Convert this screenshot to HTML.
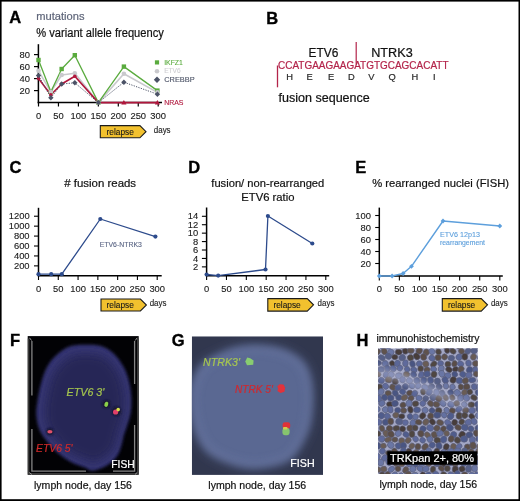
<!DOCTYPE html>
<html><head><meta charset="utf-8"><style>
html,body{margin:0;padding:0;background:#fff;width:520px;height:501px;overflow:hidden}
svg{display:block;font-family:"Liberation Sans", sans-serif;will-change:transform}
</style></head><body>
<svg width="520" height="501" viewBox="0 0 520 501">
<rect x="0" y="0" width="520" height="501" fill="#000"/>
<rect x="1.6" y="1.6" width="516.9" height="497.6" fill="#fff"/>
<text x="9.3" y="23.4" font-size="16.5" fill="#000" text-anchor="start" font-weight="bold" font-style="normal" stroke="#000" stroke-width="0.35">A</text>
<text x="36.3" y="19.8" font-size="11" fill="#5e6579" text-anchor="start" font-weight="normal" font-style="normal" textLength="48.2" lengthAdjust="spacingAndGlyphs" stroke="#5e6579" stroke-width="0.20">mutations</text>
<text x="36.3" y="37.0" font-size="12" fill="#111" text-anchor="start" font-weight="normal" font-style="normal" textLength="127.5" lengthAdjust="spacingAndGlyphs" stroke="#111" stroke-width="0.20">% variant allele frequency</text>
<line x1="38.4" y1="44.2" x2="38.4" y2="103.3" stroke="#000" stroke-width="1.5"/>
<line x1="37.7" y1="102.6" x2="162.0" y2="102.6" stroke="#000" stroke-width="1.5"/>
<line x1="34.0" y1="90.6" x2="38.4" y2="90.6" stroke="#000" stroke-width="1.2"/>
<text x="29.9" y="93.8" font-size="9.4" fill="#1a1a1a" text-anchor="end" font-weight="normal" font-style="normal" stroke="#1a1a1a" stroke-width="0.12">20</text>
<line x1="34.0" y1="78.6" x2="38.4" y2="78.6" stroke="#000" stroke-width="1.2"/>
<text x="29.9" y="81.8" font-size="9.4" fill="#1a1a1a" text-anchor="end" font-weight="normal" font-style="normal" stroke="#1a1a1a" stroke-width="0.12">40</text>
<line x1="34.0" y1="66.6" x2="38.4" y2="66.6" stroke="#000" stroke-width="1.2"/>
<text x="29.9" y="69.8" font-size="9.4" fill="#1a1a1a" text-anchor="end" font-weight="normal" font-style="normal" stroke="#1a1a1a" stroke-width="0.12">60</text>
<line x1="34.0" y1="54.599999999999994" x2="38.4" y2="54.599999999999994" stroke="#000" stroke-width="1.2"/>
<text x="29.9" y="57.8" font-size="9.4" fill="#1a1a1a" text-anchor="end" font-weight="normal" font-style="normal" stroke="#1a1a1a" stroke-width="0.12">80</text>
<line x1="38.5" y1="102.6" x2="38.5" y2="106.5" stroke="#000" stroke-width="1.2"/>
<text x="38.5" y="119" font-size="9.4" fill="#1a1a1a" text-anchor="middle" font-weight="normal" font-style="normal" stroke="#1a1a1a" stroke-width="0.12">0</text>
<line x1="58.45" y1="102.6" x2="58.45" y2="106.5" stroke="#000" stroke-width="1.2"/>
<text x="58.45" y="119" font-size="9.4" fill="#1a1a1a" text-anchor="middle" font-weight="normal" font-style="normal" stroke="#1a1a1a" stroke-width="0.12">50</text>
<line x1="78.4" y1="102.6" x2="78.4" y2="106.5" stroke="#000" stroke-width="1.2"/>
<text x="78.4" y="119" font-size="9.4" fill="#1a1a1a" text-anchor="middle" font-weight="normal" font-style="normal" stroke="#1a1a1a" stroke-width="0.12">100</text>
<line x1="98.35" y1="102.6" x2="98.35" y2="106.5" stroke="#000" stroke-width="1.2"/>
<text x="98.35" y="119" font-size="9.4" fill="#1a1a1a" text-anchor="middle" font-weight="normal" font-style="normal" stroke="#1a1a1a" stroke-width="0.12">150</text>
<line x1="118.30000000000001" y1="102.6" x2="118.30000000000001" y2="106.5" stroke="#000" stroke-width="1.2"/>
<text x="118.30000000000001" y="119" font-size="9.4" fill="#1a1a1a" text-anchor="middle" font-weight="normal" font-style="normal" stroke="#1a1a1a" stroke-width="0.12">200</text>
<line x1="138.25" y1="102.6" x2="138.25" y2="106.5" stroke="#000" stroke-width="1.2"/>
<text x="138.25" y="119" font-size="9.4" fill="#1a1a1a" text-anchor="middle" font-weight="normal" font-style="normal" stroke="#1a1a1a" stroke-width="0.12">250</text>
<line x1="158.2" y1="102.6" x2="158.2" y2="106.5" stroke="#000" stroke-width="1.2"/>
<text x="158.2" y="119" font-size="9.4" fill="#1a1a1a" text-anchor="middle" font-weight="normal" font-style="normal" stroke="#1a1a1a" stroke-width="0.12">300</text>
<polyline points="38.50,70.80 50.87,91.80 61.64,75.00 74.81,73.20 98.35,102.60 123.89,73.80 157.40,92.40" fill="none" stroke="#c9c9cd" stroke-width="1.6" stroke-linejoin="round"/>
<polyline points="38.50,60.00 50.87,91.80 61.64,69.00 74.81,55.20 98.35,102.60 123.89,66.60 157.40,90.60" fill="none" stroke="#5aab3e" stroke-width="1.3" stroke-linejoin="round"/>
<polyline points="38.50,78.60 50.87,94.80 61.64,84.00 74.81,76.20 98.35,102.60 123.89,102.60 157.40,102.60" fill="none" stroke="#b0163c" stroke-width="1.6" stroke-linejoin="round"/>
<polyline points="38.50,75.60 50.87,97.80 61.64,84.00 74.81,82.80 98.35,102.60 123.89,82.20 157.40,94.20" fill="none" stroke="#4b5266" stroke-width="1.0" stroke-linejoin="round" stroke-dasharray="1.2,1.3"/>
<rect x="36.30" y="57.80" width="4.4" height="4.4" fill="#5aab3e"/>
<rect x="48.67" y="89.60" width="4.4" height="4.4" fill="#5aab3e"/>
<rect x="59.44" y="66.80" width="4.4" height="4.4" fill="#5aab3e"/>
<rect x="72.61" y="53.00" width="4.4" height="4.4" fill="#5aab3e"/>
<rect x="96.15" y="100.40" width="4.4" height="4.4" fill="#5aab3e"/>
<rect x="121.69" y="64.40" width="4.4" height="4.4" fill="#5aab3e"/>
<rect x="155.20" y="88.40" width="4.4" height="4.4" fill="#5aab3e"/>
<circle cx="38.50" cy="70.80" r="2.3" fill="#c9c9cd"/>
<circle cx="50.87" cy="91.80" r="2.3" fill="#c9c9cd"/>
<circle cx="61.64" cy="75.00" r="2.3" fill="#c9c9cd"/>
<circle cx="74.81" cy="73.20" r="2.3" fill="#c9c9cd"/>
<circle cx="98.35" cy="102.60" r="2.3" fill="#c9c9cd"/>
<circle cx="123.89" cy="73.80" r="2.3" fill="#c9c9cd"/>
<circle cx="157.40" cy="92.40" r="2.3" fill="#c9c9cd"/>
<circle cx="38.50" cy="78.60" r="1.8" fill="#b0163c"/>
<circle cx="50.87" cy="94.80" r="1.8" fill="#b0163c"/>
<circle cx="61.64" cy="84.00" r="1.8" fill="#b0163c"/>
<circle cx="74.81" cy="76.20" r="1.8" fill="#b0163c"/>
<circle cx="98.35" cy="102.60" r="1.8" fill="#b0163c"/>
<path d="M123.89,100.00L126.49,104.42L121.29,104.42Z" fill="#b0163c"/>
<path d="M157.40,100.00L160.00,104.42L154.80,104.42Z" fill="#b0163c"/>
<path d="M38.50,72.90L41.20,75.60L38.50,78.30L35.80,75.60Z" fill="#4b5266"/>
<path d="M50.87,95.10L53.57,97.80L50.87,100.50L48.17,97.80Z" fill="#4b5266"/>
<path d="M61.64,81.30L64.34,84.00L61.64,86.70L58.94,84.00Z" fill="#4b5266"/>
<path d="M74.81,80.10L77.51,82.80L74.81,85.50L72.11,82.80Z" fill="#4b5266"/>
<path d="M98.35,99.90L101.05,102.60L98.35,105.30L95.65,102.60Z" fill="#4b5266"/>
<path d="M123.89,79.50L126.59,82.20L123.89,84.90L121.19,82.20Z" fill="#4b5266"/>
<path d="M157.40,91.50L160.10,94.20L157.40,96.90L154.70,94.20Z" fill="#4b5266"/>
<rect x="154.90" y="60.30" width="4.2" height="4.2" fill="#5aab3e"/>
<text x="164.2" y="64.7" font-size="7.9" fill="#5aab3e" text-anchor="start" font-weight="normal" font-style="normal" textLength="18.7" lengthAdjust="spacingAndGlyphs" stroke="#5aab3e" stroke-width="0.12">IKFZ1</text>
<circle cx="157.00" cy="71.20" r="2.3" fill="#c9c9cd"/>
<text x="164.2" y="73.3" font-size="7.9" fill="#cfcfd3" text-anchor="start" font-weight="normal" font-style="normal" textLength="16.5" lengthAdjust="spacingAndGlyphs" stroke="#cfcfd3" stroke-width="0.12">ETV6</text>
<path d="M157.00,76.60L160.20,79.80L157.00,83.00L153.80,79.80Z" fill="#4b5266"/>
<text x="164.2" y="82.0" font-size="7.9" fill="#4b5266" text-anchor="start" font-weight="normal" font-style="normal" textLength="30.5" lengthAdjust="spacingAndGlyphs" stroke="#4b5266" stroke-width="0.12">CREBBP</text>
<text x="164.2" y="105.0" font-size="7.9" fill="#b0163c" text-anchor="start" font-weight="normal" font-style="normal" textLength="19.3" lengthAdjust="spacingAndGlyphs" stroke="#b0163c" stroke-width="0.12">NRAS</text>
<path d="M100.3,125.6L139.9,125.6L146.0,131.7L139.9,137.8L100.3,137.8Z" fill="#f2c12e" stroke="#1a1a1a" stroke-width="1.1" stroke-linejoin="miter"/>
<text x="106.5" y="134.7" font-size="8.8" fill="#1a1a1a" text-anchor="start" font-weight="normal" font-style="normal" textLength="27.3" lengthAdjust="spacingAndGlyphs" stroke="#1a1a1a" stroke-width="0.12">relapse</text>
<text x="153.8" y="132.70000000000002" font-size="8.6" fill="#222" text-anchor="start" font-weight="normal" font-style="normal" textLength="16.8" lengthAdjust="spacingAndGlyphs" stroke="#222" stroke-width="0.12">days</text>
<text x="266.2" y="23.5" font-size="16.5" fill="#000" text-anchor="start" font-weight="bold" font-style="normal" stroke="#000" stroke-width="0.35">B</text>
<text x="308.5" y="56.8" font-size="12" fill="#111" text-anchor="start" font-weight="normal" font-style="normal" textLength="29.8" lengthAdjust="spacingAndGlyphs" stroke="#111" stroke-width="0.20">ETV6</text>
<text x="371.2" y="56.8" font-size="12" fill="#111" text-anchor="start" font-weight="normal" font-style="normal" textLength="41.5" lengthAdjust="spacingAndGlyphs" stroke="#111" stroke-width="0.20">NTRK3</text>
<line x1="356.2" y1="42.0" x2="356.2" y2="64.5" stroke="#b3244a" stroke-width="1.2"/>
<line x1="277.5" y1="65.5" x2="277.5" y2="87.3" stroke="#b3244a" stroke-width="1.3"/>
<text x="278.0" y="68.8" font-size="10.2" fill="#b3244a" text-anchor="start" font-weight="normal" font-style="normal" textLength="170.5" lengthAdjust="spacingAndGlyphs" stroke="#b3244a" stroke-width="0.20">CCATGAAGAAGATGTGCAGCACATT</text>
<text x="289.5" y="79.6" font-size="9.3" fill="#2a2a2a" text-anchor="middle" font-weight="normal" font-style="normal" stroke="#2a2a2a" stroke-width="0.22">H</text>
<text x="309.6" y="79.6" font-size="9.3" fill="#2a2a2a" text-anchor="middle" font-weight="normal" font-style="normal" stroke="#2a2a2a" stroke-width="0.22">E</text>
<text x="331.0" y="79.6" font-size="9.3" fill="#2a2a2a" text-anchor="middle" font-weight="normal" font-style="normal" stroke="#2a2a2a" stroke-width="0.22">E</text>
<text x="351.3" y="79.6" font-size="9.3" fill="#2a2a2a" text-anchor="middle" font-weight="normal" font-style="normal" stroke="#2a2a2a" stroke-width="0.22">D</text>
<text x="371.3" y="79.6" font-size="9.3" fill="#2a2a2a" text-anchor="middle" font-weight="normal" font-style="normal" stroke="#2a2a2a" stroke-width="0.22">V</text>
<text x="392.0" y="79.6" font-size="9.3" fill="#2a2a2a" text-anchor="middle" font-weight="normal" font-style="normal" stroke="#2a2a2a" stroke-width="0.22">Q</text>
<text x="414.8" y="79.6" font-size="9.3" fill="#2a2a2a" text-anchor="middle" font-weight="normal" font-style="normal" stroke="#2a2a2a" stroke-width="0.22">H</text>
<text x="434.2" y="79.6" font-size="9.3" fill="#2a2a2a" text-anchor="middle" font-weight="normal" font-style="normal" stroke="#2a2a2a" stroke-width="0.22">I</text>
<text x="278.5" y="102.3" font-size="12" fill="#111" text-anchor="start" font-weight="normal" font-style="normal" textLength="91.3" lengthAdjust="spacingAndGlyphs" stroke="#111" stroke-width="0.20">fusion sequence</text>
<text x="9.6" y="172.9" font-size="16.5" fill="#000" text-anchor="start" font-weight="bold" font-style="normal" stroke="#000" stroke-width="0.35">C</text>
<text x="64.3" y="186.8" font-size="11.5" fill="#111" text-anchor="start" font-weight="normal" font-style="normal" textLength="71.8" lengthAdjust="spacingAndGlyphs" stroke="#111" stroke-width="0.20"># fusion reads</text>
<line x1="38.5" y1="207.8" x2="38.5" y2="276.3" stroke="#000" stroke-width="1.5"/>
<line x1="37.8" y1="275.7" x2="161.7" y2="275.7" stroke="#000" stroke-width="1.5"/>
<line x1="34.0" y1="265.87" x2="38.5" y2="265.87" stroke="#000" stroke-width="1.1"/>
<text x="29.6" y="269.07" font-size="9.4" fill="#1a1a1a" text-anchor="end" font-weight="normal" font-style="normal" stroke="#1a1a1a" stroke-width="0.12">200</text>
<line x1="34.0" y1="255.94" x2="38.5" y2="255.94" stroke="#000" stroke-width="1.1"/>
<text x="29.6" y="259.14" font-size="9.4" fill="#1a1a1a" text-anchor="end" font-weight="normal" font-style="normal" stroke="#1a1a1a" stroke-width="0.12">400</text>
<line x1="34.0" y1="246.01000000000002" x2="38.5" y2="246.01000000000002" stroke="#000" stroke-width="1.1"/>
<text x="29.6" y="249.21" font-size="9.4" fill="#1a1a1a" text-anchor="end" font-weight="normal" font-style="normal" stroke="#1a1a1a" stroke-width="0.12">600</text>
<line x1="34.0" y1="236.08" x2="38.5" y2="236.08" stroke="#000" stroke-width="1.1"/>
<text x="29.6" y="239.28" font-size="9.4" fill="#1a1a1a" text-anchor="end" font-weight="normal" font-style="normal" stroke="#1a1a1a" stroke-width="0.12">800</text>
<line x1="34.0" y1="226.15" x2="38.5" y2="226.15" stroke="#000" stroke-width="1.1"/>
<text x="29.6" y="229.35" font-size="9.4" fill="#1a1a1a" text-anchor="end" font-weight="normal" font-style="normal" stroke="#1a1a1a" stroke-width="0.12">1000</text>
<line x1="34.0" y1="216.22000000000003" x2="38.5" y2="216.22000000000003" stroke="#000" stroke-width="1.1"/>
<text x="29.6" y="219.42000000000002" font-size="9.4" fill="#1a1a1a" text-anchor="end" font-weight="normal" font-style="normal" stroke="#1a1a1a" stroke-width="0.12">1200</text>
<line x1="38.5" y1="275.7" x2="38.5" y2="280.0" stroke="#000" stroke-width="1.1"/>
<text x="38.5" y="292.1" font-size="9.4" fill="#1a1a1a" text-anchor="middle" font-weight="normal" font-style="normal" stroke="#1a1a1a" stroke-width="0.12">0</text>
<line x1="58.285" y1="275.7" x2="58.285" y2="280.0" stroke="#000" stroke-width="1.1"/>
<text x="58.285" y="292.1" font-size="9.4" fill="#1a1a1a" text-anchor="middle" font-weight="normal" font-style="normal" stroke="#1a1a1a" stroke-width="0.12">50</text>
<line x1="78.07" y1="275.7" x2="78.07" y2="280.0" stroke="#000" stroke-width="1.1"/>
<text x="78.07" y="292.1" font-size="9.4" fill="#1a1a1a" text-anchor="middle" font-weight="normal" font-style="normal" stroke="#1a1a1a" stroke-width="0.12">100</text>
<line x1="97.85499999999999" y1="275.7" x2="97.85499999999999" y2="280.0" stroke="#000" stroke-width="1.1"/>
<text x="97.85499999999999" y="292.1" font-size="9.4" fill="#1a1a1a" text-anchor="middle" font-weight="normal" font-style="normal" stroke="#1a1a1a" stroke-width="0.12">150</text>
<line x1="117.64" y1="275.7" x2="117.64" y2="280.0" stroke="#000" stroke-width="1.1"/>
<text x="117.64" y="292.1" font-size="9.4" fill="#1a1a1a" text-anchor="middle" font-weight="normal" font-style="normal" stroke="#1a1a1a" stroke-width="0.12">200</text>
<line x1="137.425" y1="275.7" x2="137.425" y2="280.0" stroke="#000" stroke-width="1.1"/>
<text x="137.425" y="292.1" font-size="9.4" fill="#1a1a1a" text-anchor="middle" font-weight="normal" font-style="normal" stroke="#1a1a1a" stroke-width="0.12">250</text>
<line x1="157.20999999999998" y1="275.7" x2="157.20999999999998" y2="280.0" stroke="#000" stroke-width="1.1"/>
<text x="157.20999999999998" y="292.1" font-size="9.4" fill="#1a1a1a" text-anchor="middle" font-weight="normal" font-style="normal" stroke="#1a1a1a" stroke-width="0.12">300</text>
<polyline points="38.50,274.20 51.20,274.20 61.80,274.20 100.30,219.00 155.40,236.60" fill="none" stroke="#2d4b8c" stroke-width="1.3" stroke-linejoin="round"/>
<circle cx="38.50" cy="274.20" r="2.1" fill="#2d4b8c"/>
<circle cx="51.20" cy="274.20" r="2.1" fill="#2d4b8c"/>
<circle cx="61.80" cy="274.20" r="2.1" fill="#2d4b8c"/>
<circle cx="100.30" cy="219.00" r="2.1" fill="#2d4b8c"/>
<circle cx="155.40" cy="236.60" r="2.1" fill="#2d4b8c"/>
<text x="99.7" y="246.8" font-size="7.2" fill="#5a6584" text-anchor="start" font-weight="normal" font-style="normal" textLength="42.2" lengthAdjust="spacingAndGlyphs" stroke="#5a6584" stroke-width="0.12">ETV6-NTRK3</text>
<path d="M101.0,299.0L140.4,299.0L146.4,305.0L140.4,311.0L101.0,311.0Z" fill="#f2c12e" stroke="#1a1a1a" stroke-width="1.1" stroke-linejoin="miter"/>
<text x="106.6" y="307.8" font-size="8.8" fill="#1a1a1a" text-anchor="start" font-weight="normal" font-style="normal" textLength="27.3" lengthAdjust="spacingAndGlyphs" stroke="#1a1a1a" stroke-width="0.12">relapse</text>
<text x="149.7" y="306.1" font-size="8.6" fill="#222" text-anchor="start" font-weight="normal" font-style="normal" textLength="16.8" lengthAdjust="spacingAndGlyphs" stroke="#222" stroke-width="0.12">days</text>
<text x="188.2" y="172.9" font-size="16.5" fill="#000" text-anchor="start" font-weight="bold" font-style="normal" stroke="#000" stroke-width="0.35">D</text>
<text x="211.3" y="186.8" font-size="11.5" fill="#111" text-anchor="start" font-weight="normal" font-style="normal" textLength="113" lengthAdjust="spacingAndGlyphs" stroke="#111" stroke-width="0.20">fusion/ non-rearranged</text>
<text x="241.3" y="200.6" font-size="11.5" fill="#111" text-anchor="start" font-weight="normal" font-style="normal" textLength="53.2" lengthAdjust="spacingAndGlyphs" stroke="#111" stroke-width="0.20">ETV6 ratio</text>
<line x1="206.6" y1="207.5" x2="206.6" y2="276.3" stroke="#000" stroke-width="1.5"/>
<line x1="205.9" y1="275.7" x2="329.2" y2="275.7" stroke="#000" stroke-width="1.5"/>
<line x1="201.9" y1="266.87" x2="206.6" y2="266.87" stroke="#000" stroke-width="1.1"/>
<text x="198.2" y="270.07" font-size="9.4" fill="#1a1a1a" text-anchor="end" font-weight="normal" font-style="normal" stroke="#1a1a1a" stroke-width="0.12">2</text>
<line x1="201.9" y1="258.44" x2="206.6" y2="258.44" stroke="#000" stroke-width="1.1"/>
<text x="198.2" y="261.64" font-size="9.4" fill="#1a1a1a" text-anchor="end" font-weight="normal" font-style="normal" stroke="#1a1a1a" stroke-width="0.12">4</text>
<line x1="201.9" y1="250.01000000000002" x2="206.6" y2="250.01000000000002" stroke="#000" stroke-width="1.1"/>
<text x="198.2" y="253.21" font-size="9.4" fill="#1a1a1a" text-anchor="end" font-weight="normal" font-style="normal" stroke="#1a1a1a" stroke-width="0.12">6</text>
<line x1="201.9" y1="241.58" x2="206.6" y2="241.58" stroke="#000" stroke-width="1.1"/>
<text x="198.2" y="244.78" font-size="9.4" fill="#1a1a1a" text-anchor="end" font-weight="normal" font-style="normal" stroke="#1a1a1a" stroke-width="0.12">8</text>
<line x1="201.9" y1="233.15" x2="206.6" y2="233.15" stroke="#000" stroke-width="1.1"/>
<text x="198.2" y="236.35" font-size="9.4" fill="#1a1a1a" text-anchor="end" font-weight="normal" font-style="normal" stroke="#1a1a1a" stroke-width="0.12">10</text>
<line x1="201.9" y1="224.72000000000003" x2="206.6" y2="224.72000000000003" stroke="#000" stroke-width="1.1"/>
<text x="198.2" y="227.92000000000002" font-size="9.4" fill="#1a1a1a" text-anchor="end" font-weight="normal" font-style="normal" stroke="#1a1a1a" stroke-width="0.12">12</text>
<line x1="201.9" y1="216.29000000000002" x2="206.6" y2="216.29000000000002" stroke="#000" stroke-width="1.1"/>
<text x="198.2" y="219.49" font-size="9.4" fill="#1a1a1a" text-anchor="end" font-weight="normal" font-style="normal" stroke="#1a1a1a" stroke-width="0.12">14</text>
<line x1="206.6" y1="275.7" x2="206.6" y2="280.0" stroke="#000" stroke-width="1.1"/>
<text x="206.6" y="292.0" font-size="9.4" fill="#1a1a1a" text-anchor="middle" font-weight="normal" font-style="normal" stroke="#1a1a1a" stroke-width="0.12">0</text>
<line x1="226.465" y1="275.7" x2="226.465" y2="280.0" stroke="#000" stroke-width="1.1"/>
<text x="226.465" y="292.0" font-size="9.4" fill="#1a1a1a" text-anchor="middle" font-weight="normal" font-style="normal" stroke="#1a1a1a" stroke-width="0.12">50</text>
<line x1="246.32999999999998" y1="275.7" x2="246.32999999999998" y2="280.0" stroke="#000" stroke-width="1.1"/>
<text x="246.32999999999998" y="292.0" font-size="9.4" fill="#1a1a1a" text-anchor="middle" font-weight="normal" font-style="normal" stroke="#1a1a1a" stroke-width="0.12">100</text>
<line x1="266.195" y1="275.7" x2="266.195" y2="280.0" stroke="#000" stroke-width="1.1"/>
<text x="266.195" y="292.0" font-size="9.4" fill="#1a1a1a" text-anchor="middle" font-weight="normal" font-style="normal" stroke="#1a1a1a" stroke-width="0.12">150</text>
<line x1="286.06" y1="275.7" x2="286.06" y2="280.0" stroke="#000" stroke-width="1.1"/>
<text x="286.06" y="292.0" font-size="9.4" fill="#1a1a1a" text-anchor="middle" font-weight="normal" font-style="normal" stroke="#1a1a1a" stroke-width="0.12">200</text>
<line x1="305.925" y1="275.7" x2="305.925" y2="280.0" stroke="#000" stroke-width="1.1"/>
<text x="305.925" y="292.0" font-size="9.4" fill="#1a1a1a" text-anchor="middle" font-weight="normal" font-style="normal" stroke="#1a1a1a" stroke-width="0.12">250</text>
<line x1="325.78999999999996" y1="275.7" x2="325.78999999999996" y2="280.0" stroke="#000" stroke-width="1.1"/>
<text x="325.78999999999996" y="292.0" font-size="9.4" fill="#1a1a1a" text-anchor="middle" font-weight="normal" font-style="normal" stroke="#1a1a1a" stroke-width="0.12">300</text>
<polyline points="206.60,274.50 218.20,275.60 265.50,269.50 267.90,216.00 312.30,243.50" fill="none" stroke="#2d4b8c" stroke-width="1.3" stroke-linejoin="round"/>
<circle cx="206.60" cy="274.50" r="2.1" fill="#2d4b8c"/>
<circle cx="218.20" cy="275.60" r="2.1" fill="#2d4b8c"/>
<circle cx="265.50" cy="269.50" r="2.1" fill="#2d4b8c"/>
<circle cx="267.90" cy="216.00" r="2.1" fill="#2d4b8c"/>
<circle cx="312.30" cy="243.50" r="2.1" fill="#2d4b8c"/>
<path d="M267.8,298.6L307.25,298.6L313.5,304.85L307.25,311.1L267.8,311.1Z" fill="#f2c12e" stroke="#1a1a1a" stroke-width="1.1" stroke-linejoin="miter"/>
<text x="273.4" y="307.6" font-size="8.8" fill="#1a1a1a" text-anchor="start" font-weight="normal" font-style="normal" textLength="27.3" lengthAdjust="spacingAndGlyphs" stroke="#1a1a1a" stroke-width="0.12">relapse</text>
<text x="317.6" y="305.90000000000003" font-size="8.6" fill="#222" text-anchor="start" font-weight="normal" font-style="normal" textLength="16.8" lengthAdjust="spacingAndGlyphs" stroke="#222" stroke-width="0.12">days</text>
<text x="355.3" y="173.0" font-size="16.5" fill="#000" text-anchor="start" font-weight="bold" font-style="normal" stroke="#000" stroke-width="0.35">E</text>
<text x="372.2" y="187.0" font-size="11.5" fill="#111" text-anchor="start" font-weight="normal" font-style="normal" textLength="136.9" lengthAdjust="spacingAndGlyphs" stroke="#111" stroke-width="0.20">% rearranged nuclei (FISH)</text>
<line x1="379.3" y1="207.6" x2="379.3" y2="276.5" stroke="#000" stroke-width="1.5"/>
<line x1="378.6" y1="276.0" x2="502.8" y2="276.0" stroke="#000" stroke-width="1.5"/>
<line x1="375.2" y1="263.5" x2="379.3" y2="263.5" stroke="#000" stroke-width="1.1"/>
<text x="370.9" y="266.7" font-size="9.4" fill="#1a1a1a" text-anchor="end" font-weight="normal" font-style="normal" stroke="#1a1a1a" stroke-width="0.12">20</text>
<line x1="375.2" y1="251.5" x2="379.3" y2="251.5" stroke="#000" stroke-width="1.1"/>
<text x="370.9" y="254.7" font-size="9.4" fill="#1a1a1a" text-anchor="end" font-weight="normal" font-style="normal" stroke="#1a1a1a" stroke-width="0.12">40</text>
<line x1="375.2" y1="239.5" x2="379.3" y2="239.5" stroke="#000" stroke-width="1.1"/>
<text x="370.9" y="242.7" font-size="9.4" fill="#1a1a1a" text-anchor="end" font-weight="normal" font-style="normal" stroke="#1a1a1a" stroke-width="0.12">60</text>
<line x1="375.2" y1="227.5" x2="379.3" y2="227.5" stroke="#000" stroke-width="1.1"/>
<text x="370.9" y="230.7" font-size="9.4" fill="#1a1a1a" text-anchor="end" font-weight="normal" font-style="normal" stroke="#1a1a1a" stroke-width="0.12">80</text>
<line x1="375.2" y1="215.5" x2="379.3" y2="215.5" stroke="#000" stroke-width="1.1"/>
<text x="370.9" y="218.7" font-size="9.4" fill="#1a1a1a" text-anchor="end" font-weight="normal" font-style="normal" stroke="#1a1a1a" stroke-width="0.12">100</text>
<line x1="379.3" y1="276.0" x2="379.3" y2="280.5" stroke="#000" stroke-width="1.1"/>
<text x="379.3" y="292.2" font-size="9.4" fill="#1a1a1a" text-anchor="middle" font-weight="normal" font-style="normal" stroke="#1a1a1a" stroke-width="0.12">0</text>
<line x1="399.385" y1="276.0" x2="399.385" y2="280.5" stroke="#000" stroke-width="1.1"/>
<text x="399.385" y="292.2" font-size="9.4" fill="#1a1a1a" text-anchor="middle" font-weight="normal" font-style="normal" stroke="#1a1a1a" stroke-width="0.12">50</text>
<line x1="419.47" y1="276.0" x2="419.47" y2="280.5" stroke="#000" stroke-width="1.1"/>
<text x="419.47" y="292.2" font-size="9.4" fill="#1a1a1a" text-anchor="middle" font-weight="normal" font-style="normal" stroke="#1a1a1a" stroke-width="0.12">100</text>
<line x1="439.555" y1="276.0" x2="439.555" y2="280.5" stroke="#000" stroke-width="1.1"/>
<text x="439.555" y="292.2" font-size="9.4" fill="#1a1a1a" text-anchor="middle" font-weight="normal" font-style="normal" stroke="#1a1a1a" stroke-width="0.12">150</text>
<line x1="459.64" y1="276.0" x2="459.64" y2="280.5" stroke="#000" stroke-width="1.1"/>
<text x="459.64" y="292.2" font-size="9.4" fill="#1a1a1a" text-anchor="middle" font-weight="normal" font-style="normal" stroke="#1a1a1a" stroke-width="0.12">200</text>
<line x1="479.725" y1="276.0" x2="479.725" y2="280.5" stroke="#000" stroke-width="1.1"/>
<text x="479.725" y="292.2" font-size="9.4" fill="#1a1a1a" text-anchor="middle" font-weight="normal" font-style="normal" stroke="#1a1a1a" stroke-width="0.12">250</text>
<line x1="499.81" y1="276.0" x2="499.81" y2="280.5" stroke="#000" stroke-width="1.1"/>
<text x="499.81" y="292.2" font-size="9.4" fill="#1a1a1a" text-anchor="middle" font-weight="normal" font-style="normal" stroke="#1a1a1a" stroke-width="0.12">300</text>
<polyline points="379.30,276.00 392.10,276.00 403.10,273.50 411.50,266.30 443.00,221.00 499.80,226.00" fill="none" stroke="#5d9fdc" stroke-width="1.4" stroke-linejoin="round"/>
<path d="M379.30,273.60L381.70,276.00L379.30,278.40L376.90,276.00Z" fill="#5d9fdc"/>
<path d="M392.10,273.60L394.50,276.00L392.10,278.40L389.70,276.00Z" fill="#5d9fdc"/>
<path d="M403.10,271.10L405.50,273.50L403.10,275.90L400.70,273.50Z" fill="#5d9fdc"/>
<path d="M411.50,263.90L413.90,266.30L411.50,268.70L409.10,266.30Z" fill="#5d9fdc"/>
<path d="M443.00,218.60L445.40,221.00L443.00,223.40L440.60,221.00Z" fill="#5d9fdc"/>
<path d="M499.80,223.60L502.20,226.00L499.80,228.40L497.40,226.00Z" fill="#5d9fdc"/>
<text x="440.0" y="236.9" font-size="8" fill="#5d9fdc" text-anchor="start" font-weight="normal" font-style="normal" textLength="39.9" lengthAdjust="spacingAndGlyphs" stroke="#5d9fdc" stroke-width="0.12">ETV6 12p13</text>
<text x="440.0" y="244.9" font-size="7" fill="#5d9fdc" text-anchor="start" font-weight="normal" font-style="normal" textLength="44.9" lengthAdjust="spacingAndGlyphs" stroke="#5d9fdc" stroke-width="0.12">rearrangement</text>
<path d="M442.3,298.6L481.25,298.6L487.5,304.85L481.25,311.1L442.3,311.1Z" fill="#f2c12e" stroke="#1a1a1a" stroke-width="1.1" stroke-linejoin="miter"/>
<text x="447.9" y="307.6" font-size="8.8" fill="#1a1a1a" text-anchor="start" font-weight="normal" font-style="normal" textLength="27.3" lengthAdjust="spacingAndGlyphs" stroke="#1a1a1a" stroke-width="0.12">relapse</text>
<text x="490.9" y="305.90000000000003" font-size="8.6" fill="#222" text-anchor="start" font-weight="normal" font-style="normal" textLength="16.8" lengthAdjust="spacingAndGlyphs" stroke="#222" stroke-width="0.12">days</text>
<text x="10.0" y="345.9" font-size="16.5" fill="#000" text-anchor="start" font-weight="bold" font-style="normal" stroke="#000" stroke-width="0.35">F</text>
<rect x="27.7" y="336.1" width="111.0" height="138.6" fill="#020205"/>
<path d="M28.6,338.5 L28.6,473.9 L137.8,473.9 L137.8,338.5" fill="none" stroke="#3a3a3a" stroke-width="1.6"/>
<path d="M31.9,341 L31.9,395.5 M31.9,429 L31.9,471.2 L86,471.2 M113,471.2 L134.6,471.2 L134.6,425 M134.6,384 L134.6,341" fill="none" stroke="#858585" stroke-width="1.3"/>
<path d="M29.5,337.8 L31.5,340.5 M29.3,472.5 L31.8,474.5 M137.2,337.8 L135.2,340.5 M137.2,472.5 L135,474.5" stroke="#999" stroke-width="1"/>
<filter id="bl1" x="-10%" y="-10%" width="120%" height="120%"><feGaussianBlur stdDeviation="1.4"/></filter>
<path d="M91.80,344.80C97.28,344.97 100.17,345.63 103.70,347.00C107.23,348.37 110.20,350.50 113.00,353.00C115.80,355.50 118.33,358.83 120.50,362.00C122.67,365.17 124.50,368.33 126.00,372.00C127.50,375.67 128.62,379.67 129.50,384.00C130.38,388.33 131.12,393.17 131.30,398.00C131.48,402.83 131.35,408.25 130.60,413.00C129.85,417.75 127.93,422.83 126.80,426.50C125.67,430.17 124.68,431.92 123.80,435.00C122.92,438.08 122.47,441.75 121.50,445.00C120.53,448.25 119.67,451.67 118.00,454.50C116.33,457.33 114.08,459.78 111.50,462.00C108.92,464.22 105.75,466.33 102.50,467.80C99.25,469.27 94.92,470.85 92.00,470.80C89.08,470.75 88.42,468.93 85.00,467.50C81.58,466.07 76.02,464.60 71.50,462.20C66.98,459.80 61.82,456.38 57.90,453.10C53.98,449.82 51.03,446.30 48.00,442.50C44.97,438.70 41.65,434.85 39.70,430.30C37.75,425.75 36.68,420.00 36.30,415.20C35.92,410.40 36.63,406.70 37.40,401.50C38.17,396.30 39.38,389.58 40.90,384.00C42.42,378.42 43.98,372.75 46.50,368.00C49.02,363.25 51.95,359.17 56.00,355.50C60.05,351.83 64.83,347.78 70.80,346.00C76.77,344.22 86.32,344.63 91.80,344.80Z" fill="#343472" filter="url(#bl1)"/>
<filter id="bl1b" x="-20%" y="-20%" width="140%" height="140%"><feGaussianBlur stdDeviation="5"/></filter>
<path d="M91.47,353.93C96.07,354.08 98.49,354.65 101.46,355.83C104.43,357.00 106.92,358.84 109.27,360.99C111.63,363.14 113.75,366.00 115.57,368.73C117.39,371.45 118.93,374.17 120.19,377.33C121.45,380.48 122.39,383.92 123.13,387.65C123.88,391.37 124.49,395.53 124.65,399.69C124.80,403.84 124.69,408.50 124.06,412.59C123.43,416.67 121.82,421.04 120.87,424.20C119.91,427.35 119.09,428.85 118.35,431.51C117.60,434.16 117.23,437.31 116.41,440.11C115.60,442.90 114.87,445.84 113.47,448.28C112.07,450.71 110.18,452.82 108.01,454.73C105.84,456.63 103.18,458.45 100.45,459.71C97.72,460.98 94.08,462.34 91.63,462.29C89.18,462.25 88.62,460.69 85.75,459.46C82.88,458.22 78.21,456.96 74.41,454.90C70.62,452.83 66.28,449.90 62.99,447.07C59.70,444.25 57.22,441.22 54.67,437.96C52.13,434.69 49.34,431.38 47.70,427.46C46.06,423.55 45.17,418.61 44.85,414.48C44.52,410.35 45.13,407.17 45.77,402.70C46.41,398.22 47.44,392.45 48.71,387.65C49.98,382.84 51.30,377.97 53.41,373.89C55.53,369.80 57.99,366.29 61.39,363.14C64.80,359.98 68.81,356.50 73.83,354.97C78.84,353.43 86.86,353.79 91.47,353.93Z" fill="#282856" filter="url(#bl1b)"/>
<text x="66.6" y="395.8" font-size="10.3" fill="#a4c44e" text-anchor="start" font-weight="normal" font-style="italic" textLength="37.7" lengthAdjust="spacingAndGlyphs" stroke="#a4c44e" stroke-width="0.20">ETV6 3'</text>
<text x="36.0" y="451.8" font-size="10.3" fill="#cf2a2a" text-anchor="start" font-weight="normal" font-style="italic" textLength="36.5" lengthAdjust="spacingAndGlyphs" stroke="#cf2a2a" stroke-width="0.20">ETV6 5'</text>
<filter id="bl2"><feGaussianBlur stdDeviation="0.6"/></filter>
<filter id="bl6" x="-50%" y="-50%" width="200%" height="200%"><feGaussianBlur stdDeviation="1.3"/></filter>
<g filter="url(#bl6)" fill="#161630"><circle cx="106.3" cy="404.3" r="4"/><circle cx="116.5" cy="411.2" r="4.6"/><circle cx="49.9" cy="431.7" r="3.6"/></g>
<g filter="url(#bl2)">
<ellipse cx="106.3" cy="404.3" rx="1.9" ry="2.6" fill="#8bd04a" transform="rotate(20 106.3 404.3)"/>
<circle cx="115.6" cy="412.0" r="2.6" fill="#e2406a"/>
<circle cx="118.2" cy="409.6" r="1.8" fill="#d6e04a"/>
<ellipse cx="49.9" cy="431.7" rx="2.6" ry="1.8" fill="#e0506a"/>
</g>
<text x="111.3" y="467.7" font-size="10.3" fill="#fff" text-anchor="start" font-weight="normal" font-style="normal" textLength="23.5" lengthAdjust="spacingAndGlyphs" stroke="#fff" stroke-width="0.20">FISH</text>
<text x="34.0" y="488.9" font-size="10.8" fill="#111" text-anchor="start" font-weight="normal" font-style="normal" textLength="97.9" lengthAdjust="spacingAndGlyphs" stroke="#111" stroke-width="0.20">lymph node, day 156</text>
<text x="171.8" y="346.3" font-size="16.5" fill="#000" text-anchor="start" font-weight="bold" font-style="normal" stroke="#000" stroke-width="0.35">G</text>
<clipPath id="gc"><rect x="191.8" y="336.3" width="131.2" height="138.6"/></clipPath>
<filter id="bl3" x="-30%" y="-30%" width="160%" height="160%"><feGaussianBlur stdDeviation="5.5"/></filter>
<g clip-path="url(#gc)">
<rect x="191.8" y="336.3" width="131.2" height="138.6" fill="#31374e"/>
<path d="M261.00,345.50C268.83,346.00 277.83,347.15 285.00,350.00C292.17,352.85 299.50,356.77 304.00,362.60C308.50,368.43 310.83,375.48 312.00,385.00C313.17,394.52 312.50,410.20 311.00,419.70C309.50,429.20 306.50,435.33 303.00,442.00C299.50,448.67 295.83,455.53 290.00,459.70C284.17,463.87 275.17,465.62 268.00,467.00C260.83,468.38 254.17,468.83 247.00,468.00C239.83,467.17 232.00,465.00 225.00,462.00C218.00,459.00 210.33,456.17 205.00,450.00C199.67,443.83 195.50,434.83 193.00,425.00C190.50,415.17 188.83,400.83 190.00,391.00C191.17,381.17 195.23,372.17 200.00,366.00C204.77,359.83 212.27,357.17 218.60,354.00C224.93,350.83 230.93,348.42 238.00,347.00C245.07,345.58 253.17,345.00 261.00,345.50Z" fill="#5a6792" filter="url(#bl3)"/>
<filter id="bl7" x="-30%" y="-30%" width="160%" height="160%"><feGaussianBlur stdDeviation="3.5"/></filter>
<path d="M260.58,349.67C267.87,350.13 276.23,351.20 282.90,353.85C289.56,356.50 296.38,360.14 300.57,365.57C304.75,370.99 306.93,377.55 308.01,386.40C309.09,395.25 308.47,409.84 307.08,418.67C305.69,427.51 302.89,433.21 299.64,439.41C296.38,445.61 292.98,452.00 287.55,455.87C282.12,459.75 273.75,461.37 267.09,462.66C260.42,463.95 254.22,464.37 247.56,463.59C240.90,462.82 233.61,460.80 227.10,458.01C220.59,455.22 213.46,452.59 208.50,446.85C203.54,441.12 199.66,432.75 197.34,423.60C195.02,414.46 193.47,401.12 194.55,391.98C195.64,382.84 199.42,374.47 203.85,368.73C208.28,363.00 215.26,360.51 221.15,357.57C227.04,354.62 232.62,352.38 239.19,351.06C245.76,349.74 253.29,349.20 260.58,349.67Z" fill="none" stroke="#7584b2" stroke-width="7" opacity="0.45" filter="url(#bl7)"/>
</g>
<text x="203.1" y="366.0" font-size="10.8" fill="#a6c652" text-anchor="start" font-weight="normal" font-style="italic" textLength="36.9" lengthAdjust="spacingAndGlyphs" stroke="#a6c652" stroke-width="0.20">NTRK3'</text>
<text x="235.0" y="392.6" font-size="10.8" fill="#d0282e" text-anchor="start" font-weight="normal" font-style="italic" textLength="37.9" lengthAdjust="spacingAndGlyphs" stroke="#d0282e" stroke-width="0.20">NTRK 5'</text>
<g filter="url(#bl2)">
<path d="M245.3,361.5 L247.2,357.6 L250.2,358.2 L253.6,360.6 L253.2,364.8 L247.0,365.3 Z" fill="#88cc70"/>
<path d="M277.2,386.5 L279.5,384.3 L283.5,384.6 L285.2,387.8 L284.4,391.8 L280.5,393.0 L277.4,391.0 L278.2,388.6 Z" fill="#e2303a"/>
<rect x="282.6" y="422.2" width="7.6" height="6.6" rx="2.4" fill="#e03038"/>
<rect x="282.4" y="428.0" width="7.2" height="7.2" rx="2.4" fill="#86c46e"/>
<rect x="283.0" y="427.0" width="4.5" height="2.6" rx="1" fill="#d4cc4c"/>
</g>
<text x="290.3" y="466.8" font-size="10.8" fill="#fff" text-anchor="start" font-weight="normal" font-style="normal" textLength="24.3" lengthAdjust="spacingAndGlyphs" stroke="#fff" stroke-width="0.20">FISH</text>
<text x="208.3" y="489.0" font-size="10.8" fill="#111" text-anchor="start" font-weight="normal" font-style="normal" textLength="97.9" lengthAdjust="spacingAndGlyphs" stroke="#111" stroke-width="0.20">lymph node, day 156</text>
<text x="356.4" y="346.1" font-size="16.5" fill="#000" text-anchor="start" font-weight="bold" font-style="normal" stroke="#000" stroke-width="0.35">H</text>
<text x="376.4" y="341.8" font-size="10.4" fill="#111" text-anchor="start" font-weight="normal" font-style="normal" textLength="103" lengthAdjust="spacingAndGlyphs" stroke="#111" stroke-width="0.20">immunohistochemistry</text>
<clipPath id="hc"><rect x="378.0" y="348.3" width="99.80000000000001" height="125.69999999999999"/></clipPath>
<filter id="bl4" x="-5%" y="-5%" width="110%" height="110%"><feGaussianBlur stdDeviation="0.6"/></filter>
<g clip-path="url(#hc)">
<rect x="378.0" y="348.3" width="99.80000000000001" height="125.69999999999999" fill="#a2a6c4"/>
<g filter="url(#bl4)">
<ellipse cx="375.1" cy="345.9" rx="3.4" ry="3.0" fill="#504642" stroke="#5a5e78" stroke-width="0.6" transform="rotate(82 375.1 345.9)"/>
<ellipse cx="382.4" cy="346.1" rx="3.6" ry="3.1" fill="#505b8c" stroke="#5a5e78" stroke-width="0.6" transform="rotate(24 382.4 346.1)"/>
<ellipse cx="388.3" cy="346.2" rx="3.0" ry="2.7" fill="#5f6a9c" stroke="#5a5e78" stroke-width="0.6" transform="rotate(84 388.3 346.2)"/>
<ellipse cx="396.2" cy="344.5" rx="3.4" ry="3.1" fill="#636fa0" stroke="#5a5e78" stroke-width="0.6" transform="rotate(104 396.2 344.5)"/>
<ellipse cx="401.8" cy="345.4" rx="3.1" ry="2.8" fill="#5a4d47" stroke="#5a5e78" stroke-width="0.6" transform="rotate(22 401.8 345.4)"/>
<ellipse cx="408.3" cy="344.7" rx="3.4" ry="2.8" fill="#6b76a4" stroke="#5a5e78" stroke-width="0.6" transform="rotate(152 408.3 344.7)"/>
<ellipse cx="416.8" cy="345.8" rx="3.5" ry="2.9" fill="#5f6a9c" stroke="#5a5e78" stroke-width="0.6" transform="rotate(60 416.8 345.8)"/>
<ellipse cx="423.2" cy="344.6" rx="3.5" ry="2.7" fill="#463c3a" stroke="#5a5e78" stroke-width="0.6" transform="rotate(67 423.2 344.6)"/>
<ellipse cx="428.9" cy="344.3" rx="3.4" ry="2.8" fill="#5f524e" stroke="#5a5e78" stroke-width="0.6" transform="rotate(0 428.9 344.3)"/>
<ellipse cx="436.2" cy="344.7" rx="3.6" ry="2.8" fill="#6b76a4" stroke="#5a5e78" stroke-width="0.6" transform="rotate(51 436.2 344.7)"/>
<ellipse cx="444.8" cy="344.9" rx="3.5" ry="3.0" fill="#5a4d47" stroke="#5a5e78" stroke-width="0.6" transform="rotate(91 444.8 344.9)"/>
<ellipse cx="451.4" cy="345.7" rx="3.4" ry="3.0" fill="#505b8c" stroke="#5a5e78" stroke-width="0.6" transform="rotate(104 451.4 345.7)"/>
<ellipse cx="458.9" cy="345.7" rx="3.4" ry="2.9" fill="#463c3a" stroke="#5a5e78" stroke-width="0.6" transform="rotate(151 458.9 345.7)"/>
<ellipse cx="466.1" cy="344.9" rx="2.9" ry="2.9" fill="#5a6697" stroke="#5a5e78" stroke-width="0.6" transform="rotate(133 466.1 344.9)"/>
<ellipse cx="471.4" cy="344.6" rx="3.0" ry="2.7" fill="#6b76a4" stroke="#5a5e78" stroke-width="0.6" transform="rotate(149 471.4 344.6)"/>
<ellipse cx="478.2" cy="345.5" rx="3.4" ry="2.8" fill="#505b8c" stroke="#5a5e78" stroke-width="0.6" transform="rotate(116 478.2 345.5)"/>
<ellipse cx="377.4" cy="352.0" rx="3.5" ry="2.7" fill="#5f524e" stroke="#5a5e78" stroke-width="0.6" transform="rotate(134 377.4 352.0)"/>
<ellipse cx="384.3" cy="351.4" rx="3.3" ry="2.9" fill="#5f524e" stroke="#5a5e78" stroke-width="0.6" transform="rotate(67 384.3 351.4)"/>
<ellipse cx="390.8" cy="352.4" rx="3.3" ry="3.1" fill="#6b76a4" stroke="#5a5e78" stroke-width="0.6" transform="rotate(131 390.8 352.4)"/>
<ellipse cx="398.7" cy="352.1" rx="3.5" ry="2.9" fill="#463c3a" stroke="#5a5e78" stroke-width="0.6" transform="rotate(10 398.7 352.1)"/>
<ellipse cx="405.3" cy="351.1" rx="2.9" ry="3.1" fill="#463c3a" stroke="#5a5e78" stroke-width="0.6" transform="rotate(160 405.3 351.1)"/>
<ellipse cx="410.7" cy="350.5" rx="3.5" ry="2.9" fill="#5f524e" stroke="#5a5e78" stroke-width="0.6" transform="rotate(4 410.7 350.5)"/>
<ellipse cx="419.2" cy="350.8" rx="3.5" ry="3.1" fill="#5a4d47" stroke="#5a5e78" stroke-width="0.6" transform="rotate(111 419.2 350.8)"/>
<ellipse cx="426.3" cy="352.3" rx="3.4" ry="3.1" fill="#5f524e" stroke="#5a5e78" stroke-width="0.6" transform="rotate(117 426.3 352.3)"/>
<ellipse cx="431.9" cy="351.5" rx="3.2" ry="2.9" fill="#6b76a4" stroke="#5a5e78" stroke-width="0.6" transform="rotate(61 431.9 351.5)"/>
<ellipse cx="438.5" cy="351.9" rx="3.0" ry="2.8" fill="#504642" stroke="#5a5e78" stroke-width="0.6" transform="rotate(71 438.5 351.9)"/>
<ellipse cx="447.2" cy="350.5" rx="2.9" ry="2.6" fill="#463c3a" stroke="#5a5e78" stroke-width="0.6" transform="rotate(70 447.2 350.5)"/>
<ellipse cx="452.9" cy="351.1" rx="3.4" ry="2.7" fill="#504642" stroke="#5a5e78" stroke-width="0.6" transform="rotate(39 452.9 351.1)"/>
<ellipse cx="461.5" cy="351.1" rx="3.2" ry="2.9" fill="#5f524e" stroke="#5a5e78" stroke-width="0.6" transform="rotate(49 461.5 351.1)"/>
<ellipse cx="468.0" cy="351.0" rx="3.3" ry="2.7" fill="#565f86" stroke="#5a5e78" stroke-width="0.6" transform="rotate(123 468.0 351.0)"/>
<ellipse cx="474.1" cy="350.6" rx="3.4" ry="3.1" fill="#565f86" stroke="#5a5e78" stroke-width="0.6" transform="rotate(146 474.1 350.6)"/>
<ellipse cx="481.7" cy="352.4" rx="3.5" ry="3.1" fill="#565f86" stroke="#5a5e78" stroke-width="0.6" transform="rotate(128 481.7 352.4)"/>
<ellipse cx="375.1" cy="356.9" rx="3.2" ry="2.7" fill="#695c55" stroke="#5a5e78" stroke-width="0.6" transform="rotate(129 375.1 356.9)"/>
<ellipse cx="381.9" cy="357.8" rx="3.5" ry="2.6" fill="#565f86" stroke="#5a5e78" stroke-width="0.6" transform="rotate(29 381.9 357.8)"/>
<ellipse cx="388.4" cy="356.2" rx="3.3" ry="3.0" fill="#565f86" stroke="#5a5e78" stroke-width="0.6" transform="rotate(26 388.4 356.2)"/>
<ellipse cx="394.8" cy="357.1" rx="3.1" ry="2.6" fill="#463c3a" stroke="#5a5e78" stroke-width="0.6" transform="rotate(171 394.8 357.1)"/>
<ellipse cx="402.2" cy="357.6" rx="3.4" ry="3.0" fill="#565f86" stroke="#5a5e78" stroke-width="0.6" transform="rotate(150 402.2 357.6)"/>
<ellipse cx="410.5" cy="357.7" rx="3.1" ry="3.2" fill="#504642" stroke="#5a5e78" stroke-width="0.6" transform="rotate(66 410.5 357.7)"/>
<ellipse cx="416.7" cy="356.4" rx="3.6" ry="3.0" fill="#463c3a" stroke="#5a5e78" stroke-width="0.6" transform="rotate(48 416.7 356.4)"/>
<ellipse cx="423.6" cy="357.0" rx="3.3" ry="3.1" fill="#5a4d47" stroke="#5a5e78" stroke-width="0.6" transform="rotate(74 423.6 357.0)"/>
<ellipse cx="432.0" cy="358.1" rx="3.2" ry="2.9" fill="#5a6697" stroke="#5a5e78" stroke-width="0.6" transform="rotate(41 432.0 358.1)"/>
<ellipse cx="438.1" cy="357.6" rx="3.1" ry="3.1" fill="#5a4d47" stroke="#5a5e78" stroke-width="0.6" transform="rotate(87 438.1 357.6)"/>
<ellipse cx="444.6" cy="356.9" rx="3.0" ry="3.0" fill="#5f524e" stroke="#5a5e78" stroke-width="0.6" transform="rotate(131 444.6 356.9)"/>
<ellipse cx="451.4" cy="358.1" rx="3.2" ry="2.8" fill="#565f86" stroke="#5a5e78" stroke-width="0.6" transform="rotate(8 451.4 358.1)"/>
<ellipse cx="459.2" cy="357.1" rx="3.3" ry="3.1" fill="#5a6697" stroke="#5a5e78" stroke-width="0.6" transform="rotate(138 459.2 357.1)"/>
<ellipse cx="464.8" cy="356.7" rx="3.5" ry="3.0" fill="#463c3a" stroke="#5a5e78" stroke-width="0.6" transform="rotate(92 464.8 356.7)"/>
<ellipse cx="473.5" cy="356.9" rx="3.2" ry="2.9" fill="#695c55" stroke="#5a5e78" stroke-width="0.6" transform="rotate(111 473.5 356.9)"/>
<ellipse cx="480.5" cy="357.5" rx="3.3" ry="3.2" fill="#636fa0" stroke="#5a5e78" stroke-width="0.6" transform="rotate(150 480.5 357.5)"/>
<ellipse cx="378.2" cy="362.9" rx="3.3" ry="2.6" fill="#4a5482" stroke="#5a5e78" stroke-width="0.6" transform="rotate(17 378.2 362.9)"/>
<ellipse cx="385.2" cy="363.7" rx="3.1" ry="3.2" fill="#636fa0" stroke="#5a5e78" stroke-width="0.6" transform="rotate(157 385.2 363.7)"/>
<ellipse cx="392.3" cy="363.6" rx="3.1" ry="2.7" fill="#463c3a" stroke="#5a5e78" stroke-width="0.6" transform="rotate(59 392.3 363.6)"/>
<ellipse cx="397.4" cy="363.4" rx="3.4" ry="2.9" fill="#5a6697" stroke="#5a5e78" stroke-width="0.6" transform="rotate(107 397.4 363.4)"/>
<ellipse cx="405.4" cy="363.2" rx="3.5" ry="2.8" fill="#5f6a9c" stroke="#5a5e78" stroke-width="0.6" transform="rotate(95 405.4 363.2)"/>
<ellipse cx="412.5" cy="363.9" rx="3.3" ry="2.7" fill="#4a5482" stroke="#5a5e78" stroke-width="0.6" transform="rotate(74 412.5 363.9)"/>
<ellipse cx="419.3" cy="363.8" rx="3.0" ry="3.0" fill="#5a6697" stroke="#5a5e78" stroke-width="0.6" transform="rotate(24 419.3 363.8)"/>
<ellipse cx="425.8" cy="364.0" rx="3.2" ry="3.1" fill="#695c55" stroke="#5a5e78" stroke-width="0.6" transform="rotate(76 425.8 364.0)"/>
<ellipse cx="433.7" cy="364.2" rx="3.6" ry="2.7" fill="#504642" stroke="#5a5e78" stroke-width="0.6" transform="rotate(132 433.7 364.2)"/>
<ellipse cx="440.6" cy="363.4" rx="2.9" ry="2.7" fill="#5a6697" stroke="#5a5e78" stroke-width="0.6" transform="rotate(12 440.6 363.4)"/>
<ellipse cx="447.9" cy="364.2" rx="3.0" ry="3.0" fill="#504642" stroke="#5a5e78" stroke-width="0.6" transform="rotate(6 447.9 364.2)"/>
<ellipse cx="454.5" cy="363.7" rx="3.2" ry="2.7" fill="#5a4d47" stroke="#5a5e78" stroke-width="0.6" transform="rotate(102 454.5 363.7)"/>
<ellipse cx="460.6" cy="363.9" rx="3.2" ry="2.9" fill="#5a6697" stroke="#5a5e78" stroke-width="0.6" transform="rotate(32 460.6 363.9)"/>
<ellipse cx="468.5" cy="363.1" rx="3.2" ry="2.8" fill="#5a6697" stroke="#5a5e78" stroke-width="0.6" transform="rotate(79 468.5 363.1)"/>
<ellipse cx="475.7" cy="363.6" rx="3.1" ry="3.2" fill="#5f524e" stroke="#5a5e78" stroke-width="0.6" transform="rotate(70 475.7 363.6)"/>
<ellipse cx="374.0" cy="369.3" rx="3.5" ry="3.2" fill="#6b76a4" stroke="#5a5e78" stroke-width="0.6" transform="rotate(144 374.0 369.3)"/>
<ellipse cx="381.2" cy="369.3" rx="3.3" ry="2.8" fill="#4a5482" stroke="#5a5e78" stroke-width="0.6" transform="rotate(2 381.2 369.3)"/>
<ellipse cx="387.3" cy="368.5" rx="3.4" ry="2.8" fill="#505b8c" stroke="#5a5e78" stroke-width="0.6" transform="rotate(79 387.3 368.5)"/>
<ellipse cx="393.2" cy="368.6" rx="3.3" ry="2.9" fill="#5a6697" stroke="#5a5e78" stroke-width="0.6" transform="rotate(35 393.2 368.6)"/>
<ellipse cx="399.9" cy="368.1" rx="3.0" ry="2.8" fill="#5f6a9c" stroke="#5a5e78" stroke-width="0.6" transform="rotate(120 399.9 368.1)"/>
<ellipse cx="407.2" cy="369.2" rx="2.9" ry="2.7" fill="#5a6697" stroke="#5a5e78" stroke-width="0.6" transform="rotate(61 407.2 369.2)"/>
<ellipse cx="413.9" cy="369.8" rx="3.3" ry="2.7" fill="#5a6697" stroke="#5a5e78" stroke-width="0.6" transform="rotate(35 413.9 369.8)"/>
<ellipse cx="420.7" cy="368.6" rx="2.9" ry="2.9" fill="#504642" stroke="#5a5e78" stroke-width="0.6" transform="rotate(179 420.7 368.6)"/>
<ellipse cx="427.0" cy="369.7" rx="3.1" ry="2.8" fill="#5f524e" stroke="#5a5e78" stroke-width="0.6" transform="rotate(6 427.0 369.7)"/>
<ellipse cx="433.6" cy="369.2" rx="3.0" ry="2.7" fill="#636fa0" stroke="#5a5e78" stroke-width="0.6" transform="rotate(22 433.6 369.2)"/>
<ellipse cx="441.2" cy="368.7" rx="3.5" ry="3.0" fill="#6b76a4" stroke="#5a5e78" stroke-width="0.6" transform="rotate(105 441.2 368.7)"/>
<ellipse cx="449.0" cy="369.6" rx="3.5" ry="2.8" fill="#463c3a" stroke="#5a5e78" stroke-width="0.6" transform="rotate(30 449.0 369.6)"/>
<ellipse cx="455.5" cy="369.3" rx="3.1" ry="2.6" fill="#463c3a" stroke="#5a5e78" stroke-width="0.6" transform="rotate(151 455.5 369.3)"/>
<ellipse cx="461.0" cy="369.2" rx="3.4" ry="2.9" fill="#5f524e" stroke="#5a5e78" stroke-width="0.6" transform="rotate(131 461.0 369.2)"/>
<ellipse cx="469.6" cy="369.9" rx="3.4" ry="3.1" fill="#4a5482" stroke="#5a5e78" stroke-width="0.6" transform="rotate(120 469.6 369.9)"/>
<ellipse cx="475.3" cy="369.8" rx="3.0" ry="2.9" fill="#5a6697" stroke="#5a5e78" stroke-width="0.6" transform="rotate(82 475.3 369.8)"/>
<ellipse cx="378.2" cy="374.1" rx="3.0" ry="2.6" fill="#695c55" stroke="#5a5e78" stroke-width="0.6" transform="rotate(43 378.2 374.1)"/>
<ellipse cx="385.8" cy="374.5" rx="3.3" ry="2.6" fill="#5a6697" stroke="#5a5e78" stroke-width="0.6" transform="rotate(107 385.8 374.5)"/>
<ellipse cx="391.3" cy="374.4" rx="3.1" ry="2.8" fill="#6b76a4" stroke="#5a5e78" stroke-width="0.6" transform="rotate(39 391.3 374.4)"/>
<ellipse cx="398.9" cy="375.7" rx="3.5" ry="3.0" fill="#6b76a4" stroke="#5a5e78" stroke-width="0.6" transform="rotate(2 398.9 375.7)"/>
<ellipse cx="406.5" cy="374.3" rx="3.3" ry="2.7" fill="#695c55" stroke="#5a5e78" stroke-width="0.6" transform="rotate(16 406.5 374.3)"/>
<ellipse cx="413.6" cy="374.6" rx="3.1" ry="2.8" fill="#505b8c" stroke="#5a5e78" stroke-width="0.6" transform="rotate(51 413.6 374.6)"/>
<ellipse cx="421.3" cy="374.8" rx="3.4" ry="2.7" fill="#5a6697" stroke="#5a5e78" stroke-width="0.6" transform="rotate(109 421.3 374.8)"/>
<ellipse cx="427.0" cy="374.0" rx="3.3" ry="3.1" fill="#505b8c" stroke="#5a5e78" stroke-width="0.6" transform="rotate(157 427.0 374.0)"/>
<ellipse cx="434.0" cy="374.4" rx="3.3" ry="3.0" fill="#504642" stroke="#5a5e78" stroke-width="0.6" transform="rotate(106 434.0 374.4)"/>
<ellipse cx="441.9" cy="373.8" rx="3.5" ry="3.0" fill="#6b76a4" stroke="#5a5e78" stroke-width="0.6" transform="rotate(62 441.9 373.8)"/>
<ellipse cx="447.7" cy="375.6" rx="3.2" ry="2.9" fill="#636fa0" stroke="#5a5e78" stroke-width="0.6" transform="rotate(2 447.7 375.6)"/>
<ellipse cx="454.8" cy="374.3" rx="3.0" ry="2.7" fill="#4a5482" stroke="#5a5e78" stroke-width="0.6" transform="rotate(50 454.8 374.3)"/>
<ellipse cx="462.9" cy="374.4" rx="3.2" ry="3.0" fill="#505b8c" stroke="#5a5e78" stroke-width="0.6" transform="rotate(35 462.9 374.4)"/>
<ellipse cx="468.8" cy="375.1" rx="3.3" ry="3.0" fill="#5f6a9c" stroke="#5a5e78" stroke-width="0.6" transform="rotate(167 468.8 375.1)"/>
<ellipse cx="476.3" cy="374.0" rx="2.9" ry="2.9" fill="#5f524e" stroke="#5a5e78" stroke-width="0.6" transform="rotate(36 476.3 374.0)"/>
<ellipse cx="374.2" cy="380.2" rx="3.4" ry="2.8" fill="#636fa0" stroke="#5a5e78" stroke-width="0.6" transform="rotate(14 374.2 380.2)"/>
<ellipse cx="381.4" cy="380.4" rx="3.1" ry="3.0" fill="#5a6697" stroke="#5a5e78" stroke-width="0.6" transform="rotate(109 381.4 380.4)"/>
<ellipse cx="388.7" cy="379.7" rx="3.6" ry="3.1" fill="#695c55" stroke="#5a5e78" stroke-width="0.6" transform="rotate(12 388.7 379.7)"/>
<ellipse cx="395.2" cy="381.5" rx="3.2" ry="3.2" fill="#463c3a" stroke="#5a5e78" stroke-width="0.6" transform="rotate(169 395.2 381.5)"/>
<ellipse cx="402.6" cy="379.7" rx="2.9" ry="3.2" fill="#5f6a9c" stroke="#5a5e78" stroke-width="0.6" transform="rotate(8 402.6 379.7)"/>
<ellipse cx="409.4" cy="380.8" rx="3.3" ry="3.0" fill="#6b76a4" stroke="#5a5e78" stroke-width="0.6" transform="rotate(32 409.4 380.8)"/>
<ellipse cx="416.9" cy="380.6" rx="3.2" ry="3.1" fill="#505b8c" stroke="#5a5e78" stroke-width="0.6" transform="rotate(167 416.9 380.6)"/>
<ellipse cx="423.7" cy="380.4" rx="3.4" ry="3.0" fill="#505b8c" stroke="#5a5e78" stroke-width="0.6" transform="rotate(102 423.7 380.4)"/>
<ellipse cx="430.5" cy="380.2" rx="3.4" ry="3.0" fill="#505b8c" stroke="#5a5e78" stroke-width="0.6" transform="rotate(75 430.5 380.2)"/>
<ellipse cx="437.4" cy="381.3" rx="3.2" ry="3.1" fill="#565f86" stroke="#5a5e78" stroke-width="0.6" transform="rotate(84 437.4 381.3)"/>
<ellipse cx="445.2" cy="380.2" rx="3.6" ry="2.9" fill="#505b8c" stroke="#5a5e78" stroke-width="0.6" transform="rotate(58 445.2 380.2)"/>
<ellipse cx="453.2" cy="379.9" rx="3.4" ry="3.2" fill="#463c3a" stroke="#5a5e78" stroke-width="0.6" transform="rotate(117 453.2 379.9)"/>
<ellipse cx="459.4" cy="380.6" rx="3.3" ry="3.1" fill="#505b8c" stroke="#5a5e78" stroke-width="0.6" transform="rotate(2 459.4 380.6)"/>
<ellipse cx="465.4" cy="380.8" rx="3.4" ry="3.0" fill="#5f524e" stroke="#5a5e78" stroke-width="0.6" transform="rotate(145 465.4 380.8)"/>
<ellipse cx="472.3" cy="380.1" rx="3.5" ry="2.6" fill="#505b8c" stroke="#5a5e78" stroke-width="0.6" transform="rotate(170 472.3 380.1)"/>
<ellipse cx="480.9" cy="381.0" rx="3.4" ry="2.8" fill="#5f6a9c" stroke="#5a5e78" stroke-width="0.6" transform="rotate(178 480.9 381.0)"/>
<ellipse cx="379.4" cy="387.2" rx="3.3" ry="3.1" fill="#504642" stroke="#5a5e78" stroke-width="0.6" transform="rotate(175 379.4 387.2)"/>
<ellipse cx="385.6" cy="386.2" rx="3.2" ry="2.9" fill="#5f6a9c" stroke="#5a5e78" stroke-width="0.6" transform="rotate(58 385.6 386.2)"/>
<ellipse cx="392.8" cy="387.2" rx="3.4" ry="3.0" fill="#5f524e" stroke="#5a5e78" stroke-width="0.6" transform="rotate(37 392.8 387.2)"/>
<ellipse cx="398.1" cy="387.6" rx="3.3" ry="2.8" fill="#505b8c" stroke="#5a5e78" stroke-width="0.6" transform="rotate(146 398.1 387.6)"/>
<ellipse cx="405.4" cy="386.6" rx="3.1" ry="3.0" fill="#4a5482" stroke="#5a5e78" stroke-width="0.6" transform="rotate(42 405.4 386.6)"/>
<ellipse cx="412.0" cy="385.9" rx="3.2" ry="2.7" fill="#636fa0" stroke="#5a5e78" stroke-width="0.6" transform="rotate(22 412.0 385.9)"/>
<ellipse cx="418.1" cy="385.9" rx="3.0" ry="2.8" fill="#636fa0" stroke="#5a5e78" stroke-width="0.6" transform="rotate(138 418.1 385.9)"/>
<ellipse cx="425.1" cy="387.3" rx="3.6" ry="2.7" fill="#636fa0" stroke="#5a5e78" stroke-width="0.6" transform="rotate(21 425.1 387.3)"/>
<ellipse cx="431.4" cy="386.7" rx="3.3" ry="2.8" fill="#565f86" stroke="#5a5e78" stroke-width="0.6" transform="rotate(156 431.4 386.7)"/>
<ellipse cx="439.1" cy="386.8" rx="3.0" ry="2.8" fill="#565f86" stroke="#5a5e78" stroke-width="0.6" transform="rotate(40 439.1 386.8)"/>
<ellipse cx="445.9" cy="385.9" rx="3.1" ry="2.7" fill="#6b76a4" stroke="#5a5e78" stroke-width="0.6" transform="rotate(76 445.9 385.9)"/>
<ellipse cx="452.5" cy="387.0" rx="2.9" ry="2.8" fill="#6b76a4" stroke="#5a5e78" stroke-width="0.6" transform="rotate(70 452.5 387.0)"/>
<ellipse cx="460.9" cy="386.9" rx="3.0" ry="2.7" fill="#5a4d47" stroke="#5a5e78" stroke-width="0.6" transform="rotate(84 460.9 386.9)"/>
<ellipse cx="466.6" cy="386.9" rx="3.5" ry="3.1" fill="#5a4d47" stroke="#5a5e78" stroke-width="0.6" transform="rotate(156 466.6 386.9)"/>
<ellipse cx="474.3" cy="386.8" rx="3.1" ry="2.9" fill="#5a6697" stroke="#5a5e78" stroke-width="0.6" transform="rotate(82 474.3 386.8)"/>
<ellipse cx="479.9" cy="386.5" rx="3.1" ry="3.2" fill="#636fa0" stroke="#5a5e78" stroke-width="0.6" transform="rotate(94 479.9 386.5)"/>
<ellipse cx="375.0" cy="391.8" rx="3.0" ry="3.2" fill="#5a4d47" stroke="#5a5e78" stroke-width="0.6" transform="rotate(43 375.0 391.8)"/>
<ellipse cx="380.9" cy="391.8" rx="3.6" ry="3.0" fill="#6b76a4" stroke="#5a5e78" stroke-width="0.6" transform="rotate(121 380.9 391.8)"/>
<ellipse cx="388.2" cy="393.3" rx="3.2" ry="2.9" fill="#5f524e" stroke="#5a5e78" stroke-width="0.6" transform="rotate(4 388.2 393.3)"/>
<ellipse cx="395.3" cy="393.2" rx="3.3" ry="2.8" fill="#4a5482" stroke="#5a5e78" stroke-width="0.6" transform="rotate(61 395.3 393.2)"/>
<ellipse cx="402.6" cy="391.7" rx="3.1" ry="2.8" fill="#505b8c" stroke="#5a5e78" stroke-width="0.6" transform="rotate(41 402.6 391.7)"/>
<ellipse cx="409.7" cy="393.0" rx="3.2" ry="2.8" fill="#5a4d47" stroke="#5a5e78" stroke-width="0.6" transform="rotate(160 409.7 393.0)"/>
<ellipse cx="414.7" cy="393.5" rx="3.3" ry="2.8" fill="#5a6697" stroke="#5a5e78" stroke-width="0.6" transform="rotate(121 414.7 393.5)"/>
<ellipse cx="423.1" cy="391.9" rx="3.2" ry="2.6" fill="#504642" stroke="#5a5e78" stroke-width="0.6" transform="rotate(77 423.1 391.9)"/>
<ellipse cx="429.2" cy="392.1" rx="3.5" ry="3.0" fill="#505b8c" stroke="#5a5e78" stroke-width="0.6" transform="rotate(123 429.2 392.1)"/>
<ellipse cx="436.5" cy="392.3" rx="3.4" ry="2.9" fill="#6b76a4" stroke="#5a5e78" stroke-width="0.6" transform="rotate(89 436.5 392.3)"/>
<ellipse cx="442.3" cy="393.3" rx="3.4" ry="2.7" fill="#565f86" stroke="#5a5e78" stroke-width="0.6" transform="rotate(65 442.3 393.3)"/>
<ellipse cx="450.7" cy="392.5" rx="3.0" ry="2.9" fill="#4a5482" stroke="#5a5e78" stroke-width="0.6" transform="rotate(58 450.7 392.5)"/>
<ellipse cx="457.3" cy="392.8" rx="3.5" ry="3.1" fill="#6b76a4" stroke="#5a5e78" stroke-width="0.6" transform="rotate(44 457.3 392.8)"/>
<ellipse cx="464.7" cy="392.4" rx="3.3" ry="3.0" fill="#695c55" stroke="#5a5e78" stroke-width="0.6" transform="rotate(123 464.7 392.4)"/>
<ellipse cx="469.8" cy="392.0" rx="2.9" ry="2.8" fill="#504642" stroke="#5a5e78" stroke-width="0.6" transform="rotate(153 469.8 392.0)"/>
<ellipse cx="478.1" cy="392.6" rx="3.2" ry="2.8" fill="#4a5482" stroke="#5a5e78" stroke-width="0.6" transform="rotate(74 478.1 392.6)"/>
<ellipse cx="378.6" cy="398.5" rx="3.6" ry="3.0" fill="#5a6697" stroke="#5a5e78" stroke-width="0.6" transform="rotate(62 378.6 398.5)"/>
<ellipse cx="384.6" cy="397.5" rx="2.9" ry="3.1" fill="#4a5482" stroke="#5a5e78" stroke-width="0.6" transform="rotate(136 384.6 397.5)"/>
<ellipse cx="390.7" cy="398.0" rx="3.3" ry="2.9" fill="#4a5482" stroke="#5a5e78" stroke-width="0.6" transform="rotate(180 390.7 398.0)"/>
<ellipse cx="398.9" cy="397.6" rx="3.2" ry="2.8" fill="#4a5482" stroke="#5a5e78" stroke-width="0.6" transform="rotate(171 398.9 397.6)"/>
<ellipse cx="404.4" cy="397.6" rx="3.6" ry="2.8" fill="#695c55" stroke="#5a5e78" stroke-width="0.6" transform="rotate(151 404.4 397.6)"/>
<ellipse cx="411.0" cy="398.3" rx="3.1" ry="2.8" fill="#5f524e" stroke="#5a5e78" stroke-width="0.6" transform="rotate(136 411.0 398.3)"/>
<ellipse cx="419.0" cy="398.0" rx="3.1" ry="2.7" fill="#636fa0" stroke="#5a5e78" stroke-width="0.6" transform="rotate(16 419.0 398.0)"/>
<ellipse cx="425.7" cy="398.6" rx="3.0" ry="2.8" fill="#565f86" stroke="#5a5e78" stroke-width="0.6" transform="rotate(123 425.7 398.6)"/>
<ellipse cx="433.1" cy="397.5" rx="3.2" ry="3.2" fill="#565f86" stroke="#5a5e78" stroke-width="0.6" transform="rotate(49 433.1 397.5)"/>
<ellipse cx="438.8" cy="398.6" rx="3.4" ry="3.1" fill="#5a4d47" stroke="#5a5e78" stroke-width="0.6" transform="rotate(35 438.8 398.6)"/>
<ellipse cx="445.7" cy="397.7" rx="3.2" ry="2.7" fill="#5a4d47" stroke="#5a5e78" stroke-width="0.6" transform="rotate(59 445.7 397.7)"/>
<ellipse cx="452.3" cy="397.5" rx="3.1" ry="2.6" fill="#5a4d47" stroke="#5a5e78" stroke-width="0.6" transform="rotate(64 452.3 397.5)"/>
<ellipse cx="460.6" cy="398.0" rx="3.2" ry="3.0" fill="#6b76a4" stroke="#5a5e78" stroke-width="0.6" transform="rotate(95 460.6 398.0)"/>
<ellipse cx="466.4" cy="397.9" rx="3.4" ry="3.1" fill="#6b76a4" stroke="#5a5e78" stroke-width="0.6" transform="rotate(57 466.4 397.9)"/>
<ellipse cx="474.0" cy="397.6" rx="3.4" ry="2.7" fill="#504642" stroke="#5a5e78" stroke-width="0.6" transform="rotate(25 474.0 397.6)"/>
<ellipse cx="480.6" cy="399.2" rx="3.5" ry="2.8" fill="#6b76a4" stroke="#5a5e78" stroke-width="0.6" transform="rotate(82 480.6 399.2)"/>
<ellipse cx="374.0" cy="403.4" rx="3.4" ry="2.8" fill="#695c55" stroke="#5a5e78" stroke-width="0.6" transform="rotate(118 374.0 403.4)"/>
<ellipse cx="381.9" cy="403.3" rx="3.2" ry="2.9" fill="#636fa0" stroke="#5a5e78" stroke-width="0.6" transform="rotate(141 381.9 403.3)"/>
<ellipse cx="390.0" cy="404.3" rx="3.5" ry="2.7" fill="#463c3a" stroke="#5a5e78" stroke-width="0.6" transform="rotate(176 390.0 404.3)"/>
<ellipse cx="395.0" cy="403.4" rx="3.3" ry="3.1" fill="#4a5482" stroke="#5a5e78" stroke-width="0.6" transform="rotate(158 395.0 403.4)"/>
<ellipse cx="403.0" cy="405.1" rx="2.9" ry="3.0" fill="#5a4d47" stroke="#5a5e78" stroke-width="0.6" transform="rotate(46 403.0 405.1)"/>
<ellipse cx="409.1" cy="403.4" rx="3.5" ry="3.2" fill="#6b76a4" stroke="#5a5e78" stroke-width="0.6" transform="rotate(99 409.1 403.4)"/>
<ellipse cx="415.5" cy="403.8" rx="3.3" ry="2.9" fill="#504642" stroke="#5a5e78" stroke-width="0.6" transform="rotate(163 415.5 403.8)"/>
<ellipse cx="422.8" cy="403.4" rx="2.9" ry="2.8" fill="#5f6a9c" stroke="#5a5e78" stroke-width="0.6" transform="rotate(135 422.8 403.4)"/>
<ellipse cx="430.7" cy="403.6" rx="3.4" ry="2.8" fill="#5f524e" stroke="#5a5e78" stroke-width="0.6" transform="rotate(39 430.7 403.6)"/>
<ellipse cx="436.5" cy="404.3" rx="3.4" ry="3.0" fill="#5f524e" stroke="#5a5e78" stroke-width="0.6" transform="rotate(18 436.5 404.3)"/>
<ellipse cx="442.9" cy="403.5" rx="3.3" ry="2.7" fill="#6b76a4" stroke="#5a5e78" stroke-width="0.6" transform="rotate(41 442.9 403.5)"/>
<ellipse cx="451.0" cy="404.4" rx="3.4" ry="2.9" fill="#636fa0" stroke="#5a5e78" stroke-width="0.6" transform="rotate(20 451.0 404.4)"/>
<ellipse cx="456.8" cy="403.3" rx="3.0" ry="2.9" fill="#5a4d47" stroke="#5a5e78" stroke-width="0.6" transform="rotate(152 456.8 403.3)"/>
<ellipse cx="464.3" cy="404.4" rx="2.9" ry="2.7" fill="#6b76a4" stroke="#5a5e78" stroke-width="0.6" transform="rotate(48 464.3 404.4)"/>
<ellipse cx="471.3" cy="404.7" rx="3.4" ry="2.8" fill="#504642" stroke="#5a5e78" stroke-width="0.6" transform="rotate(178 471.3 404.7)"/>
<ellipse cx="477.9" cy="404.2" rx="3.3" ry="2.9" fill="#4a5482" stroke="#5a5e78" stroke-width="0.6" transform="rotate(147 477.9 404.2)"/>
<ellipse cx="377.1" cy="409.3" rx="3.1" ry="2.8" fill="#6b76a4" stroke="#5a5e78" stroke-width="0.6" transform="rotate(173 377.1 409.3)"/>
<ellipse cx="385.3" cy="409.7" rx="3.0" ry="3.0" fill="#6b76a4" stroke="#5a5e78" stroke-width="0.6" transform="rotate(154 385.3 409.7)"/>
<ellipse cx="390.4" cy="409.6" rx="3.5" ry="2.7" fill="#5f6a9c" stroke="#5a5e78" stroke-width="0.6" transform="rotate(80 390.4 409.6)"/>
<ellipse cx="397.7" cy="410.2" rx="3.0" ry="2.8" fill="#4a5482" stroke="#5a5e78" stroke-width="0.6" transform="rotate(178 397.7 410.2)"/>
<ellipse cx="403.6" cy="410.5" rx="3.1" ry="2.8" fill="#5f524e" stroke="#5a5e78" stroke-width="0.6" transform="rotate(13 403.6 410.5)"/>
<ellipse cx="410.4" cy="409.7" rx="3.5" ry="2.7" fill="#463c3a" stroke="#5a5e78" stroke-width="0.6" transform="rotate(79 410.4 409.7)"/>
<ellipse cx="417.0" cy="409.9" rx="3.5" ry="2.8" fill="#505b8c" stroke="#5a5e78" stroke-width="0.6" transform="rotate(177 417.0 409.9)"/>
<ellipse cx="425.1" cy="410.2" rx="3.0" ry="3.1" fill="#6b76a4" stroke="#5a5e78" stroke-width="0.6" transform="rotate(56 425.1 410.2)"/>
<ellipse cx="432.1" cy="410.6" rx="2.9" ry="2.8" fill="#4a5482" stroke="#5a5e78" stroke-width="0.6" transform="rotate(40 432.1 410.6)"/>
<ellipse cx="438.7" cy="410.7" rx="3.3" ry="3.2" fill="#504642" stroke="#5a5e78" stroke-width="0.6" transform="rotate(2 438.7 410.7)"/>
<ellipse cx="446.7" cy="410.5" rx="3.2" ry="2.7" fill="#6b76a4" stroke="#5a5e78" stroke-width="0.6" transform="rotate(67 446.7 410.5)"/>
<ellipse cx="452.4" cy="410.7" rx="3.1" ry="2.9" fill="#5a4d47" stroke="#5a5e78" stroke-width="0.6" transform="rotate(14 452.4 410.7)"/>
<ellipse cx="458.9" cy="409.2" rx="3.5" ry="2.7" fill="#5a6697" stroke="#5a5e78" stroke-width="0.6" transform="rotate(142 458.9 409.2)"/>
<ellipse cx="465.8" cy="410.4" rx="3.3" ry="3.0" fill="#5f524e" stroke="#5a5e78" stroke-width="0.6" transform="rotate(148 465.8 410.4)"/>
<ellipse cx="472.1" cy="410.6" rx="3.2" ry="3.1" fill="#5f6a9c" stroke="#5a5e78" stroke-width="0.6" transform="rotate(161 472.1 410.6)"/>
<ellipse cx="479.0" cy="409.2" rx="3.3" ry="3.1" fill="#4a5482" stroke="#5a5e78" stroke-width="0.6" transform="rotate(63 479.0 409.2)"/>
<ellipse cx="375.8" cy="416.2" rx="2.9" ry="2.7" fill="#695c55" stroke="#5a5e78" stroke-width="0.6" transform="rotate(49 375.8 416.2)"/>
<ellipse cx="381.4" cy="415.7" rx="3.2" ry="3.2" fill="#505b8c" stroke="#5a5e78" stroke-width="0.6" transform="rotate(42 381.4 415.7)"/>
<ellipse cx="387.3" cy="416.2" rx="3.0" ry="3.2" fill="#5a6697" stroke="#5a5e78" stroke-width="0.6" transform="rotate(131 387.3 416.2)"/>
<ellipse cx="395.9" cy="415.2" rx="3.2" ry="2.9" fill="#695c55" stroke="#5a5e78" stroke-width="0.6" transform="rotate(168 395.9 415.2)"/>
<ellipse cx="401.7" cy="416.4" rx="3.2" ry="2.6" fill="#463c3a" stroke="#5a5e78" stroke-width="0.6" transform="rotate(168 401.7 416.4)"/>
<ellipse cx="410.1" cy="416.6" rx="3.0" ry="2.8" fill="#505b8c" stroke="#5a5e78" stroke-width="0.6" transform="rotate(62 410.1 416.6)"/>
<ellipse cx="415.5" cy="416.8" rx="3.0" ry="2.8" fill="#636fa0" stroke="#5a5e78" stroke-width="0.6" transform="rotate(117 415.5 416.8)"/>
<ellipse cx="422.6" cy="415.9" rx="3.3" ry="3.0" fill="#463c3a" stroke="#5a5e78" stroke-width="0.6" transform="rotate(130 422.6 415.9)"/>
<ellipse cx="430.7" cy="416.1" rx="3.2" ry="3.1" fill="#5a4d47" stroke="#5a5e78" stroke-width="0.6" transform="rotate(99 430.7 416.1)"/>
<ellipse cx="437.3" cy="415.2" rx="3.6" ry="3.1" fill="#4a5482" stroke="#5a5e78" stroke-width="0.6" transform="rotate(174 437.3 415.2)"/>
<ellipse cx="444.1" cy="415.1" rx="3.0" ry="2.7" fill="#636fa0" stroke="#5a5e78" stroke-width="0.6" transform="rotate(48 444.1 415.1)"/>
<ellipse cx="450.6" cy="416.2" rx="3.5" ry="3.2" fill="#505b8c" stroke="#5a5e78" stroke-width="0.6" transform="rotate(119 450.6 416.2)"/>
<ellipse cx="459.2" cy="415.8" rx="3.5" ry="3.1" fill="#504642" stroke="#5a5e78" stroke-width="0.6" transform="rotate(97 459.2 415.8)"/>
<ellipse cx="464.7" cy="415.4" rx="3.1" ry="3.1" fill="#504642" stroke="#5a5e78" stroke-width="0.6" transform="rotate(127 464.7 415.4)"/>
<ellipse cx="471.8" cy="416.5" rx="3.2" ry="2.6" fill="#463c3a" stroke="#5a5e78" stroke-width="0.6" transform="rotate(41 471.8 416.5)"/>
<ellipse cx="478.4" cy="415.5" rx="3.0" ry="3.1" fill="#6b76a4" stroke="#5a5e78" stroke-width="0.6" transform="rotate(161 478.4 415.5)"/>
<ellipse cx="378.5" cy="422.0" rx="3.6" ry="3.0" fill="#5f6a9c" stroke="#5a5e78" stroke-width="0.6" transform="rotate(22 378.5 422.0)"/>
<ellipse cx="385.5" cy="422.2" rx="3.1" ry="3.1" fill="#4a5482" stroke="#5a5e78" stroke-width="0.6" transform="rotate(169 385.5 422.2)"/>
<ellipse cx="390.7" cy="421.4" rx="3.3" ry="3.0" fill="#5a4d47" stroke="#5a5e78" stroke-width="0.6" transform="rotate(88 390.7 421.4)"/>
<ellipse cx="399.3" cy="421.6" rx="3.6" ry="3.2" fill="#565f86" stroke="#5a5e78" stroke-width="0.6" transform="rotate(8 399.3 421.6)"/>
<ellipse cx="405.3" cy="422.6" rx="3.0" ry="2.8" fill="#5f6a9c" stroke="#5a5e78" stroke-width="0.6" transform="rotate(180 405.3 422.6)"/>
<ellipse cx="413.0" cy="422.8" rx="3.0" ry="3.2" fill="#636fa0" stroke="#5a5e78" stroke-width="0.6" transform="rotate(26 413.0 422.8)"/>
<ellipse cx="418.6" cy="422.2" rx="3.4" ry="2.7" fill="#5a4d47" stroke="#5a5e78" stroke-width="0.6" transform="rotate(13 418.6 422.2)"/>
<ellipse cx="425.9" cy="422.0" rx="3.5" ry="2.9" fill="#695c55" stroke="#5a5e78" stroke-width="0.6" transform="rotate(131 425.9 422.0)"/>
<ellipse cx="432.4" cy="421.8" rx="3.4" ry="2.8" fill="#463c3a" stroke="#5a5e78" stroke-width="0.6" transform="rotate(51 432.4 421.8)"/>
<ellipse cx="440.1" cy="422.6" rx="3.6" ry="2.9" fill="#5f524e" stroke="#5a5e78" stroke-width="0.6" transform="rotate(23 440.1 422.6)"/>
<ellipse cx="447.9" cy="422.8" rx="3.6" ry="2.8" fill="#5f6a9c" stroke="#5a5e78" stroke-width="0.6" transform="rotate(45 447.9 422.8)"/>
<ellipse cx="454.6" cy="422.5" rx="3.2" ry="2.9" fill="#463c3a" stroke="#5a5e78" stroke-width="0.6" transform="rotate(109 454.6 422.5)"/>
<ellipse cx="461.7" cy="421.9" rx="3.1" ry="2.8" fill="#504642" stroke="#5a5e78" stroke-width="0.6" transform="rotate(120 461.7 421.9)"/>
<ellipse cx="468.4" cy="422.3" rx="3.5" ry="3.0" fill="#5f6a9c" stroke="#5a5e78" stroke-width="0.6" transform="rotate(162 468.4 422.3)"/>
<ellipse cx="474.0" cy="421.4" rx="3.3" ry="2.8" fill="#5f6a9c" stroke="#5a5e78" stroke-width="0.6" transform="rotate(53 474.0 421.4)"/>
<ellipse cx="481.8" cy="422.7" rx="2.9" ry="3.0" fill="#5a6697" stroke="#5a5e78" stroke-width="0.6" transform="rotate(80 481.8 422.7)"/>
<ellipse cx="374.5" cy="428.5" rx="3.5" ry="3.0" fill="#504642" stroke="#5a5e78" stroke-width="0.6" transform="rotate(166 374.5 428.5)"/>
<ellipse cx="382.0" cy="428.4" rx="3.2" ry="2.6" fill="#5f524e" stroke="#5a5e78" stroke-width="0.6" transform="rotate(73 382.0 428.4)"/>
<ellipse cx="389.5" cy="428.5" rx="3.3" ry="3.1" fill="#5a4d47" stroke="#5a5e78" stroke-width="0.6" transform="rotate(27 389.5 428.5)"/>
<ellipse cx="396.4" cy="428.3" rx="3.5" ry="2.8" fill="#504642" stroke="#5a5e78" stroke-width="0.6" transform="rotate(166 396.4 428.3)"/>
<ellipse cx="402.6" cy="428.9" rx="3.0" ry="3.0" fill="#463c3a" stroke="#5a5e78" stroke-width="0.6" transform="rotate(115 402.6 428.9)"/>
<ellipse cx="410.2" cy="428.2" rx="3.4" ry="3.2" fill="#5a4d47" stroke="#5a5e78" stroke-width="0.6" transform="rotate(7 410.2 428.2)"/>
<ellipse cx="415.1" cy="427.9" rx="3.0" ry="3.0" fill="#504642" stroke="#5a5e78" stroke-width="0.6" transform="rotate(0 415.1 427.9)"/>
<ellipse cx="423.0" cy="428.9" rx="3.1" ry="3.2" fill="#4a5482" stroke="#5a5e78" stroke-width="0.6" transform="rotate(112 423.0 428.9)"/>
<ellipse cx="430.2" cy="427.9" rx="3.6" ry="3.0" fill="#5a6697" stroke="#5a5e78" stroke-width="0.6" transform="rotate(24 430.2 427.9)"/>
<ellipse cx="436.9" cy="428.2" rx="3.2" ry="3.0" fill="#5f524e" stroke="#5a5e78" stroke-width="0.6" transform="rotate(129 436.9 428.2)"/>
<ellipse cx="443.4" cy="428.9" rx="3.2" ry="2.8" fill="#5a4d47" stroke="#5a5e78" stroke-width="0.6" transform="rotate(126 443.4 428.9)"/>
<ellipse cx="449.9" cy="427.6" rx="3.6" ry="3.1" fill="#4a5482" stroke="#5a5e78" stroke-width="0.6" transform="rotate(35 449.9 427.6)"/>
<ellipse cx="458.1" cy="427.4" rx="3.4" ry="2.8" fill="#5a4d47" stroke="#5a5e78" stroke-width="0.6" transform="rotate(26 458.1 427.4)"/>
<ellipse cx="464.8" cy="427.5" rx="3.6" ry="3.0" fill="#505b8c" stroke="#5a5e78" stroke-width="0.6" transform="rotate(16 464.8 427.5)"/>
<ellipse cx="471.0" cy="428.8" rx="3.0" ry="2.8" fill="#505b8c" stroke="#5a5e78" stroke-width="0.6" transform="rotate(42 471.0 428.8)"/>
<ellipse cx="478.5" cy="427.9" rx="3.4" ry="3.1" fill="#4a5482" stroke="#5a5e78" stroke-width="0.6" transform="rotate(147 478.5 427.9)"/>
<ellipse cx="377.9" cy="433.7" rx="2.9" ry="3.1" fill="#504642" stroke="#5a5e78" stroke-width="0.6" transform="rotate(84 377.9 433.7)"/>
<ellipse cx="386.2" cy="433.5" rx="3.6" ry="3.1" fill="#695c55" stroke="#5a5e78" stroke-width="0.6" transform="rotate(62 386.2 433.5)"/>
<ellipse cx="391.0" cy="434.2" rx="3.5" ry="3.2" fill="#5a4d47" stroke="#5a5e78" stroke-width="0.6" transform="rotate(69 391.0 434.2)"/>
<ellipse cx="398.2" cy="433.5" rx="3.2" ry="2.9" fill="#6b76a4" stroke="#5a5e78" stroke-width="0.6" transform="rotate(148 398.2 433.5)"/>
<ellipse cx="406.1" cy="434.5" rx="3.2" ry="2.8" fill="#505b8c" stroke="#5a5e78" stroke-width="0.6" transform="rotate(33 406.1 434.5)"/>
<ellipse cx="412.0" cy="434.1" rx="3.5" ry="2.9" fill="#504642" stroke="#5a5e78" stroke-width="0.6" transform="rotate(88 412.0 434.1)"/>
<ellipse cx="420.9" cy="433.7" rx="3.4" ry="3.2" fill="#5a4d47" stroke="#5a5e78" stroke-width="0.6" transform="rotate(78 420.9 433.7)"/>
<ellipse cx="427.5" cy="435.0" rx="3.5" ry="2.7" fill="#695c55" stroke="#5a5e78" stroke-width="0.6" transform="rotate(48 427.5 435.0)"/>
<ellipse cx="434.3" cy="434.8" rx="3.4" ry="3.0" fill="#5f524e" stroke="#5a5e78" stroke-width="0.6" transform="rotate(68 434.3 434.8)"/>
<ellipse cx="440.0" cy="433.5" rx="3.4" ry="2.8" fill="#636fa0" stroke="#5a5e78" stroke-width="0.6" transform="rotate(158 440.0 433.5)"/>
<ellipse cx="446.6" cy="433.4" rx="2.9" ry="2.8" fill="#695c55" stroke="#5a5e78" stroke-width="0.6" transform="rotate(75 446.6 433.4)"/>
<ellipse cx="453.6" cy="434.6" rx="3.1" ry="3.1" fill="#505b8c" stroke="#5a5e78" stroke-width="0.6" transform="rotate(102 453.6 434.6)"/>
<ellipse cx="462.1" cy="434.7" rx="3.6" ry="3.2" fill="#463c3a" stroke="#5a5e78" stroke-width="0.6" transform="rotate(122 462.1 434.7)"/>
<ellipse cx="469.4" cy="435.0" rx="3.5" ry="3.0" fill="#4a5482" stroke="#5a5e78" stroke-width="0.6" transform="rotate(165 469.4 435.0)"/>
<ellipse cx="476.5" cy="433.3" rx="3.6" ry="3.0" fill="#5a4d47" stroke="#5a5e78" stroke-width="0.6" transform="rotate(61 476.5 433.3)"/>
<ellipse cx="374.0" cy="439.8" rx="3.5" ry="2.9" fill="#565f86" stroke="#5a5e78" stroke-width="0.6" transform="rotate(3 374.0 439.8)"/>
<ellipse cx="381.7" cy="439.0" rx="3.2" ry="3.2" fill="#5f6a9c" stroke="#5a5e78" stroke-width="0.6" transform="rotate(66 381.7 439.0)"/>
<ellipse cx="388.2" cy="439.6" rx="3.6" ry="2.6" fill="#695c55" stroke="#5a5e78" stroke-width="0.6" transform="rotate(159 388.2 439.6)"/>
<ellipse cx="394.9" cy="439.6" rx="3.0" ry="2.6" fill="#5f524e" stroke="#5a5e78" stroke-width="0.6" transform="rotate(3 394.9 439.6)"/>
<ellipse cx="401.7" cy="440.8" rx="3.1" ry="3.0" fill="#695c55" stroke="#5a5e78" stroke-width="0.6" transform="rotate(92 401.7 440.8)"/>
<ellipse cx="408.1" cy="440.4" rx="3.2" ry="2.8" fill="#695c55" stroke="#5a5e78" stroke-width="0.6" transform="rotate(132 408.1 440.4)"/>
<ellipse cx="415.6" cy="439.1" rx="3.0" ry="2.7" fill="#5f6a9c" stroke="#5a5e78" stroke-width="0.6" transform="rotate(63 415.6 439.1)"/>
<ellipse cx="422.6" cy="440.3" rx="2.9" ry="2.7" fill="#5a6697" stroke="#5a5e78" stroke-width="0.6" transform="rotate(36 422.6 440.3)"/>
<ellipse cx="429.9" cy="439.4" rx="3.0" ry="3.0" fill="#636fa0" stroke="#5a5e78" stroke-width="0.6" transform="rotate(153 429.9 439.4)"/>
<ellipse cx="437.5" cy="440.4" rx="3.6" ry="3.2" fill="#504642" stroke="#5a5e78" stroke-width="0.6" transform="rotate(23 437.5 440.4)"/>
<ellipse cx="443.6" cy="439.5" rx="3.6" ry="3.1" fill="#505b8c" stroke="#5a5e78" stroke-width="0.6" transform="rotate(103 443.6 439.5)"/>
<ellipse cx="451.2" cy="438.9" rx="3.4" ry="3.0" fill="#5a4d47" stroke="#5a5e78" stroke-width="0.6" transform="rotate(107 451.2 438.9)"/>
<ellipse cx="457.5" cy="440.2" rx="3.3" ry="3.1" fill="#504642" stroke="#5a5e78" stroke-width="0.6" transform="rotate(40 457.5 440.2)"/>
<ellipse cx="464.1" cy="439.0" rx="3.5" ry="3.2" fill="#505b8c" stroke="#5a5e78" stroke-width="0.6" transform="rotate(179 464.1 439.0)"/>
<ellipse cx="472.4" cy="439.9" rx="3.4" ry="3.0" fill="#5f6a9c" stroke="#5a5e78" stroke-width="0.6" transform="rotate(90 472.4 439.9)"/>
<ellipse cx="479.2" cy="439.0" rx="3.5" ry="2.9" fill="#505b8c" stroke="#5a5e78" stroke-width="0.6" transform="rotate(6 479.2 439.0)"/>
<ellipse cx="377.9" cy="445.8" rx="3.3" ry="3.2" fill="#4a5482" stroke="#5a5e78" stroke-width="0.6" transform="rotate(145 377.9 445.8)"/>
<ellipse cx="383.4" cy="445.9" rx="2.9" ry="2.8" fill="#695c55" stroke="#5a5e78" stroke-width="0.6" transform="rotate(163 383.4 445.9)"/>
<ellipse cx="390.8" cy="445.1" rx="3.5" ry="3.1" fill="#6b76a4" stroke="#5a5e78" stroke-width="0.6" transform="rotate(42 390.8 445.1)"/>
<ellipse cx="398.3" cy="445.9" rx="3.0" ry="3.1" fill="#505b8c" stroke="#5a5e78" stroke-width="0.6" transform="rotate(171 398.3 445.9)"/>
<ellipse cx="403.4" cy="445.6" rx="3.1" ry="3.1" fill="#4a5482" stroke="#5a5e78" stroke-width="0.6" transform="rotate(83 403.4 445.6)"/>
<ellipse cx="411.9" cy="446.0" rx="3.1" ry="2.7" fill="#695c55" stroke="#5a5e78" stroke-width="0.6" transform="rotate(126 411.9 446.0)"/>
<ellipse cx="417.9" cy="446.6" rx="3.2" ry="2.9" fill="#5a4d47" stroke="#5a5e78" stroke-width="0.6" transform="rotate(96 417.9 446.6)"/>
<ellipse cx="425.1" cy="446.8" rx="3.6" ry="2.9" fill="#5f524e" stroke="#5a5e78" stroke-width="0.6" transform="rotate(137 425.1 446.8)"/>
<ellipse cx="432.2" cy="445.1" rx="3.0" ry="3.0" fill="#505b8c" stroke="#5a5e78" stroke-width="0.6" transform="rotate(124 432.2 445.1)"/>
<ellipse cx="439.0" cy="445.9" rx="3.5" ry="3.0" fill="#4a5482" stroke="#5a5e78" stroke-width="0.6" transform="rotate(78 439.0 445.9)"/>
<ellipse cx="446.3" cy="446.9" rx="3.4" ry="2.9" fill="#463c3a" stroke="#5a5e78" stroke-width="0.6" transform="rotate(116 446.3 446.9)"/>
<ellipse cx="453.5" cy="446.5" rx="3.1" ry="3.0" fill="#695c55" stroke="#5a5e78" stroke-width="0.6" transform="rotate(101 453.5 446.5)"/>
<ellipse cx="459.0" cy="446.6" rx="3.3" ry="2.6" fill="#5f6a9c" stroke="#5a5e78" stroke-width="0.6" transform="rotate(137 459.0 446.6)"/>
<ellipse cx="467.5" cy="447.0" rx="3.1" ry="3.0" fill="#5a4d47" stroke="#5a5e78" stroke-width="0.6" transform="rotate(172 467.5 447.0)"/>
<ellipse cx="473.0" cy="445.6" rx="3.6" ry="3.2" fill="#5f524e" stroke="#5a5e78" stroke-width="0.6" transform="rotate(78 473.0 445.6)"/>
<ellipse cx="479.6" cy="446.4" rx="3.1" ry="2.7" fill="#5f524e" stroke="#5a5e78" stroke-width="0.6" transform="rotate(4 479.6 446.4)"/>
<ellipse cx="373.6" cy="451.6" rx="3.0" ry="3.0" fill="#695c55" stroke="#5a5e78" stroke-width="0.6" transform="rotate(76 373.6 451.6)"/>
<ellipse cx="382.4" cy="451.2" rx="3.0" ry="2.9" fill="#5a6697" stroke="#5a5e78" stroke-width="0.6" transform="rotate(112 382.4 451.2)"/>
<ellipse cx="388.8" cy="452.8" rx="3.4" ry="2.6" fill="#504642" stroke="#5a5e78" stroke-width="0.6" transform="rotate(166 388.8 452.8)"/>
<ellipse cx="394.4" cy="451.3" rx="3.1" ry="3.0" fill="#5a4d47" stroke="#5a5e78" stroke-width="0.6" transform="rotate(44 394.4 451.3)"/>
<ellipse cx="403.3" cy="450.9" rx="3.5" ry="2.8" fill="#505b8c" stroke="#5a5e78" stroke-width="0.6" transform="rotate(112 403.3 450.9)"/>
<ellipse cx="408.9" cy="451.4" rx="3.0" ry="2.9" fill="#463c3a" stroke="#5a5e78" stroke-width="0.6" transform="rotate(111 408.9 451.4)"/>
<ellipse cx="415.9" cy="452.4" rx="3.2" ry="2.8" fill="#695c55" stroke="#5a5e78" stroke-width="0.6" transform="rotate(146 415.9 452.4)"/>
<ellipse cx="422.8" cy="452.8" rx="3.3" ry="2.7" fill="#636fa0" stroke="#5a5e78" stroke-width="0.6" transform="rotate(170 422.8 452.8)"/>
<ellipse cx="429.0" cy="451.1" rx="3.5" ry="2.7" fill="#636fa0" stroke="#5a5e78" stroke-width="0.6" transform="rotate(65 429.0 451.1)"/>
<ellipse cx="436.6" cy="451.6" rx="3.6" ry="2.9" fill="#463c3a" stroke="#5a5e78" stroke-width="0.6" transform="rotate(107 436.6 451.6)"/>
<ellipse cx="443.9" cy="452.8" rx="3.5" ry="3.2" fill="#6b76a4" stroke="#5a5e78" stroke-width="0.6" transform="rotate(50 443.9 452.8)"/>
<ellipse cx="450.6" cy="451.4" rx="3.4" ry="2.9" fill="#636fa0" stroke="#5a5e78" stroke-width="0.6" transform="rotate(160 450.6 451.4)"/>
<ellipse cx="457.8" cy="451.1" rx="3.5" ry="3.0" fill="#636fa0" stroke="#5a5e78" stroke-width="0.6" transform="rotate(3 457.8 451.1)"/>
<ellipse cx="464.7" cy="450.9" rx="3.0" ry="2.9" fill="#565f86" stroke="#5a5e78" stroke-width="0.6" transform="rotate(72 464.7 450.9)"/>
<ellipse cx="471.2" cy="451.8" rx="3.0" ry="3.0" fill="#5f524e" stroke="#5a5e78" stroke-width="0.6" transform="rotate(27 471.2 451.8)"/>
<ellipse cx="478.9" cy="450.9" rx="3.0" ry="3.1" fill="#695c55" stroke="#5a5e78" stroke-width="0.6" transform="rotate(131 478.9 450.9)"/>
<ellipse cx="377.5" cy="456.6" rx="3.2" ry="2.8" fill="#636fa0" stroke="#5a5e78" stroke-width="0.6" transform="rotate(107 377.5 456.6)"/>
<ellipse cx="384.4" cy="457.9" rx="3.4" ry="2.6" fill="#5f6a9c" stroke="#5a5e78" stroke-width="0.6" transform="rotate(122 384.4 457.9)"/>
<ellipse cx="391.5" cy="457.6" rx="3.3" ry="3.0" fill="#4a5482" stroke="#5a5e78" stroke-width="0.6" transform="rotate(155 391.5 457.6)"/>
<ellipse cx="399.7" cy="458.5" rx="3.1" ry="2.6" fill="#5a6697" stroke="#5a5e78" stroke-width="0.6" transform="rotate(35 399.7 458.5)"/>
<ellipse cx="405.7" cy="456.9" rx="3.6" ry="2.6" fill="#6b76a4" stroke="#5a5e78" stroke-width="0.6" transform="rotate(132 405.7 456.9)"/>
<ellipse cx="412.5" cy="457.5" rx="3.4" ry="2.8" fill="#6b76a4" stroke="#5a5e78" stroke-width="0.6" transform="rotate(156 412.5 457.5)"/>
<ellipse cx="420.5" cy="457.3" rx="3.0" ry="2.9" fill="#504642" stroke="#5a5e78" stroke-width="0.6" transform="rotate(95 420.5 457.3)"/>
<ellipse cx="427.3" cy="457.7" rx="3.4" ry="3.0" fill="#5a4d47" stroke="#5a5e78" stroke-width="0.6" transform="rotate(142 427.3 457.7)"/>
<ellipse cx="434.1" cy="457.3" rx="3.4" ry="2.9" fill="#5f524e" stroke="#5a5e78" stroke-width="0.6" transform="rotate(6 434.1 457.3)"/>
<ellipse cx="441.9" cy="457.0" rx="2.9" ry="2.9" fill="#463c3a" stroke="#5a5e78" stroke-width="0.6" transform="rotate(22 441.9 457.0)"/>
<ellipse cx="447.7" cy="456.7" rx="3.3" ry="3.0" fill="#695c55" stroke="#5a5e78" stroke-width="0.6" transform="rotate(166 447.7 456.7)"/>
<ellipse cx="454.7" cy="458.5" rx="3.0" ry="2.8" fill="#565f86" stroke="#5a5e78" stroke-width="0.6" transform="rotate(169 454.7 458.5)"/>
<ellipse cx="461.7" cy="458.1" rx="3.6" ry="2.9" fill="#505b8c" stroke="#5a5e78" stroke-width="0.6" transform="rotate(174 461.7 458.1)"/>
<ellipse cx="468.7" cy="458.2" rx="3.4" ry="3.1" fill="#4a5482" stroke="#5a5e78" stroke-width="0.6" transform="rotate(123 468.7 458.2)"/>
<ellipse cx="476.0" cy="457.8" rx="3.3" ry="2.6" fill="#5f524e" stroke="#5a5e78" stroke-width="0.6" transform="rotate(34 476.0 457.8)"/>
<ellipse cx="374.8" cy="464.2" rx="3.4" ry="2.8" fill="#695c55" stroke="#5a5e78" stroke-width="0.6" transform="rotate(57 374.8 464.2)"/>
<ellipse cx="380.8" cy="462.5" rx="3.4" ry="3.0" fill="#6b76a4" stroke="#5a5e78" stroke-width="0.6" transform="rotate(87 380.8 462.5)"/>
<ellipse cx="388.7" cy="462.4" rx="3.5" ry="2.7" fill="#5f6a9c" stroke="#5a5e78" stroke-width="0.6" transform="rotate(60 388.7 462.4)"/>
<ellipse cx="395.8" cy="463.4" rx="3.0" ry="2.7" fill="#5f524e" stroke="#5a5e78" stroke-width="0.6" transform="rotate(74 395.8 463.4)"/>
<ellipse cx="401.4" cy="463.6" rx="3.5" ry="3.1" fill="#695c55" stroke="#5a5e78" stroke-width="0.6" transform="rotate(19 401.4 463.6)"/>
<ellipse cx="409.4" cy="463.6" rx="3.3" ry="3.2" fill="#636fa0" stroke="#5a5e78" stroke-width="0.6" transform="rotate(130 409.4 463.6)"/>
<ellipse cx="415.4" cy="464.3" rx="3.1" ry="3.0" fill="#505b8c" stroke="#5a5e78" stroke-width="0.6" transform="rotate(100 415.4 464.3)"/>
<ellipse cx="421.6" cy="463.8" rx="3.1" ry="3.1" fill="#6b76a4" stroke="#5a5e78" stroke-width="0.6" transform="rotate(161 421.6 463.8)"/>
<ellipse cx="428.2" cy="463.3" rx="3.6" ry="2.9" fill="#695c55" stroke="#5a5e78" stroke-width="0.6" transform="rotate(33 428.2 463.3)"/>
<ellipse cx="436.9" cy="463.9" rx="3.1" ry="2.8" fill="#565f86" stroke="#5a5e78" stroke-width="0.6" transform="rotate(11 436.9 463.9)"/>
<ellipse cx="442.9" cy="464.1" rx="3.2" ry="3.1" fill="#463c3a" stroke="#5a5e78" stroke-width="0.6" transform="rotate(126 442.9 464.1)"/>
<ellipse cx="449.8" cy="462.9" rx="3.6" ry="2.6" fill="#565f86" stroke="#5a5e78" stroke-width="0.6" transform="rotate(16 449.8 462.9)"/>
<ellipse cx="455.0" cy="463.9" rx="3.1" ry="3.1" fill="#5f524e" stroke="#5a5e78" stroke-width="0.6" transform="rotate(64 455.0 463.9)"/>
<ellipse cx="463.7" cy="463.3" rx="3.2" ry="3.1" fill="#5a6697" stroke="#5a5e78" stroke-width="0.6" transform="rotate(23 463.7 463.3)"/>
<ellipse cx="469.0" cy="462.9" rx="3.1" ry="3.0" fill="#6b76a4" stroke="#5a5e78" stroke-width="0.6" transform="rotate(105 469.0 462.9)"/>
<ellipse cx="476.2" cy="462.6" rx="3.6" ry="2.7" fill="#636fa0" stroke="#5a5e78" stroke-width="0.6" transform="rotate(6 476.2 462.6)"/>
<ellipse cx="378.1" cy="469.5" rx="3.2" ry="2.7" fill="#695c55" stroke="#5a5e78" stroke-width="0.6" transform="rotate(24 378.1 469.5)"/>
<ellipse cx="383.7" cy="469.1" rx="3.0" ry="3.2" fill="#695c55" stroke="#5a5e78" stroke-width="0.6" transform="rotate(80 383.7 469.1)"/>
<ellipse cx="391.4" cy="469.3" rx="3.5" ry="2.6" fill="#636fa0" stroke="#5a5e78" stroke-width="0.6" transform="rotate(140 391.4 469.3)"/>
<ellipse cx="398.0" cy="468.7" rx="2.9" ry="2.9" fill="#5a4d47" stroke="#5a5e78" stroke-width="0.6" transform="rotate(163 398.0 468.7)"/>
<ellipse cx="405.7" cy="470.0" rx="3.5" ry="2.9" fill="#5f524e" stroke="#5a5e78" stroke-width="0.6" transform="rotate(116 405.7 470.0)"/>
<ellipse cx="412.9" cy="469.0" rx="3.0" ry="3.2" fill="#6b76a4" stroke="#5a5e78" stroke-width="0.6" transform="rotate(37 412.9 469.0)"/>
<ellipse cx="420.4" cy="468.7" rx="3.4" ry="2.7" fill="#636fa0" stroke="#5a5e78" stroke-width="0.6" transform="rotate(28 420.4 468.7)"/>
<ellipse cx="425.8" cy="468.9" rx="3.3" ry="2.9" fill="#636fa0" stroke="#5a5e78" stroke-width="0.6" transform="rotate(155 425.8 468.9)"/>
<ellipse cx="433.0" cy="469.4" rx="3.4" ry="2.7" fill="#504642" stroke="#5a5e78" stroke-width="0.6" transform="rotate(99 433.0 469.4)"/>
<ellipse cx="441.4" cy="468.4" rx="3.3" ry="2.6" fill="#5a4d47" stroke="#5a5e78" stroke-width="0.6" transform="rotate(41 441.4 468.4)"/>
<ellipse cx="447.3" cy="468.4" rx="3.0" ry="3.1" fill="#504642" stroke="#5a5e78" stroke-width="0.6" transform="rotate(3 447.3 468.4)"/>
<ellipse cx="455.3" cy="469.3" rx="3.6" ry="3.1" fill="#463c3a" stroke="#5a5e78" stroke-width="0.6" transform="rotate(98 455.3 469.3)"/>
<ellipse cx="462.1" cy="468.9" rx="3.1" ry="2.9" fill="#463c3a" stroke="#5a5e78" stroke-width="0.6" transform="rotate(151 462.1 468.9)"/>
<ellipse cx="468.6" cy="468.7" rx="3.5" ry="3.1" fill="#565f86" stroke="#5a5e78" stroke-width="0.6" transform="rotate(95 468.6 468.7)"/>
<ellipse cx="474.7" cy="468.4" rx="3.3" ry="3.0" fill="#6b76a4" stroke="#5a5e78" stroke-width="0.6" transform="rotate(92 474.7 468.4)"/>
<ellipse cx="482.0" cy="469.0" rx="3.0" ry="3.2" fill="#505b8c" stroke="#5a5e78" stroke-width="0.6" transform="rotate(179 482.0 469.0)"/>
<ellipse cx="373.7" cy="475.8" rx="3.2" ry="3.2" fill="#463c3a" stroke="#5a5e78" stroke-width="0.6" transform="rotate(57 373.7 475.8)"/>
<ellipse cx="382.2" cy="474.9" rx="3.1" ry="2.9" fill="#504642" stroke="#5a5e78" stroke-width="0.6" transform="rotate(86 382.2 474.9)"/>
<ellipse cx="387.8" cy="474.4" rx="3.0" ry="2.7" fill="#5a4d47" stroke="#5a5e78" stroke-width="0.6" transform="rotate(47 387.8 474.4)"/>
<ellipse cx="394.7" cy="474.5" rx="2.9" ry="2.6" fill="#636fa0" stroke="#5a5e78" stroke-width="0.6" transform="rotate(144 394.7 474.5)"/>
<ellipse cx="401.1" cy="475.8" rx="3.1" ry="2.8" fill="#636fa0" stroke="#5a5e78" stroke-width="0.6" transform="rotate(59 401.1 475.8)"/>
<ellipse cx="408.3" cy="474.1" rx="3.0" ry="3.1" fill="#5f524e" stroke="#5a5e78" stroke-width="0.6" transform="rotate(75 408.3 474.1)"/>
<ellipse cx="414.7" cy="475.0" rx="3.5" ry="2.6" fill="#6b76a4" stroke="#5a5e78" stroke-width="0.6" transform="rotate(165 414.7 475.0)"/>
<ellipse cx="423.0" cy="475.0" rx="3.2" ry="2.9" fill="#463c3a" stroke="#5a5e78" stroke-width="0.6" transform="rotate(40 423.0 475.0)"/>
<ellipse cx="428.5" cy="475.0" rx="3.0" ry="3.1" fill="#505b8c" stroke="#5a5e78" stroke-width="0.6" transform="rotate(158 428.5 475.0)"/>
<ellipse cx="436.0" cy="474.3" rx="3.4" ry="2.9" fill="#5a6697" stroke="#5a5e78" stroke-width="0.6" transform="rotate(51 436.0 474.3)"/>
<ellipse cx="443.9" cy="474.7" rx="3.4" ry="2.8" fill="#504642" stroke="#5a5e78" stroke-width="0.6" transform="rotate(42 443.9 474.7)"/>
<ellipse cx="450.9" cy="474.6" rx="3.1" ry="2.7" fill="#5f6a9c" stroke="#5a5e78" stroke-width="0.6" transform="rotate(28 450.9 474.6)"/>
<ellipse cx="457.3" cy="474.2" rx="3.6" ry="2.8" fill="#505b8c" stroke="#5a5e78" stroke-width="0.6" transform="rotate(92 457.3 474.2)"/>
<ellipse cx="464.7" cy="474.8" rx="3.1" ry="3.2" fill="#5a4d47" stroke="#5a5e78" stroke-width="0.6" transform="rotate(82 464.7 474.8)"/>
<ellipse cx="471.5" cy="475.0" rx="3.1" ry="2.6" fill="#636fa0" stroke="#5a5e78" stroke-width="0.6" transform="rotate(112 471.5 475.0)"/>
<ellipse cx="477.1" cy="475.4" rx="3.5" ry="3.2" fill="#5a6697" stroke="#5a5e78" stroke-width="0.6" transform="rotate(101 477.1 475.4)"/>
</g>
<filter id="bl5" x="-20%" y="-50%" width="140%" height="200%"><feGaussianBlur stdDeviation="2.5"/></filter>
<path d="M376,364 L410,375 L446,392 L470,404 L466,410 L440,400 L408,386 L376,376 Z" fill="#bcc0da" opacity="0.4" filter="url(#bl5)"/>
</g>
<rect x="387.3" y="451.3" width="90" height="13.4" fill="#000"/>
<text x="390.1" y="461.8" font-size="10.5" fill="#fff" text-anchor="start" font-weight="normal" font-style="normal" textLength="83.9" lengthAdjust="spacingAndGlyphs" stroke="#fff" stroke-width="0.20">TRKpan 2+, 80%</text>
<text x="379.4" y="488.4" font-size="10.8" fill="#111" text-anchor="start" font-weight="normal" font-style="normal" textLength="97.8" lengthAdjust="spacingAndGlyphs" stroke="#111" stroke-width="0.20">lymph node, day 156</text>
</svg>
</body></html>
